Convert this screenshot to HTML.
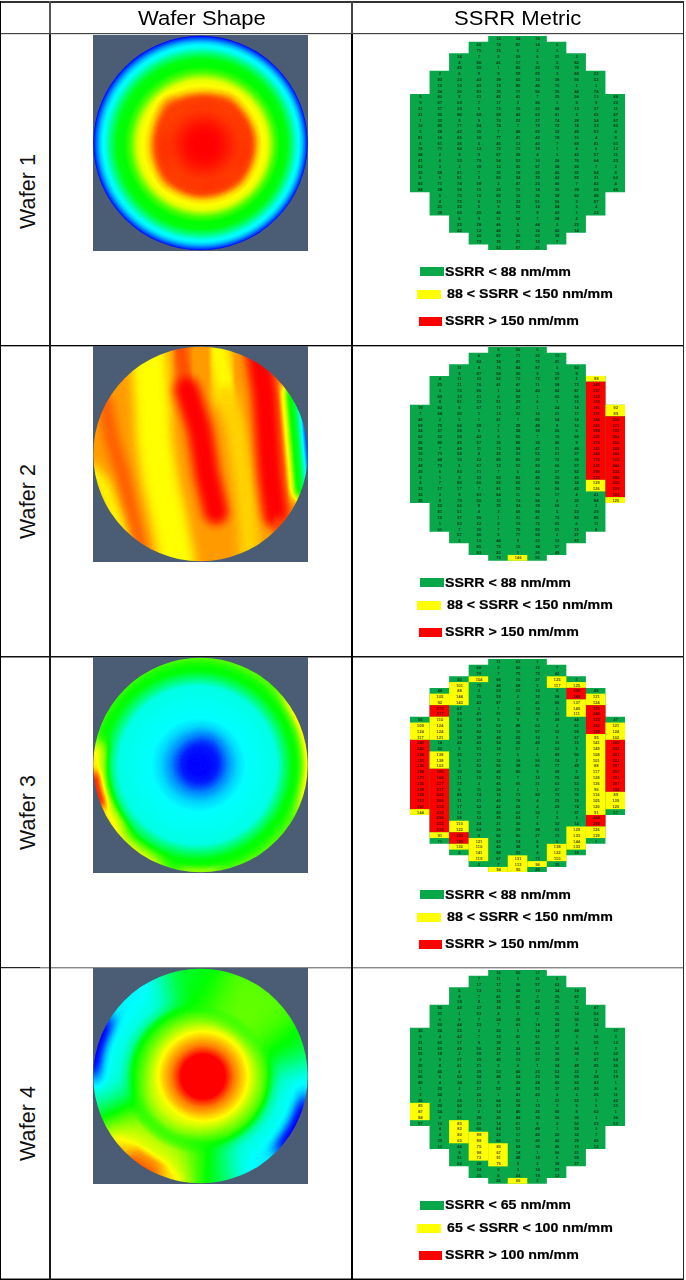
<!DOCTYPE html>
<html><head><meta charset="utf-8"><title>Wafer shape vs SSRR metric</title>
<style>
html,body{margin:0;padding:0;background:#fff;}
body{width:686px;height:1280px;position:relative;overflow:hidden;font-family:"Liberation Sans",sans-serif;}
.abs{position:absolute;display:block;}
.hl{position:absolute;height:1px;background:#1a1a1a;}
.vl{position:absolute;width:2px;background:#111;}
.hd{position:absolute;top:6.3px;font-size:20.5px;line-height:24px;color:#000;white-space:nowrap;transform:scaleX(1.075);transform-origin:0 0;}
.rl{position:absolute;font-size:21.5px;letter-spacing:0.1px;line-height:24px;color:#111;white-space:nowrap;transform:rotate(-90deg);transform-origin:0 0;}
.sw{width:23.5px;height:9px;}
.lg{font-size:12.3px;font-weight:bold;line-height:14px;color:#000;-webkit-text-stroke:0.2px #000;white-space:nowrap;transform:scaleX(1.155);transform-origin:0 0;}
</style></head><body>

<svg class="abs" style="left:93px;top:35px" width="215" height="216" viewBox="0 0 215 216">
<defs>
<clipPath id="cc1"><circle cx="107.5" cy="108" r="107.2"/></clipPath>
<filter id="wf1" filterUnits="userSpaceOnUse" x="-10" y="-10" width="235" height="236" color-interpolation-filters="sRGB"><feComponentTransfer><feFuncR type="table" tableValues="0 0 0 0 1 1"/><feFuncG type="table" tableValues="0 0 1 1 1 0"/><feFuncB type="table" tableValues="0.55 1 1 0 0 0"/></feComponentTransfer></filter>
<radialGradient id="w1g" gradientUnits="userSpaceOnUse" cx="107.55" cy="108.1" r="107" fx="113.5" fy="113"><stop offset="0.0000" stop-color="rgb(255,255,255)"/><stop offset="0.3551" stop-color="rgb(255,255,255)"/><stop offset="0.4486" stop-color="rgb(240,240,240)"/><stop offset="0.5140" stop-color="rgb(212,212,212)"/><stop offset="0.5607" stop-color="rgb(204,204,204)"/><stop offset="0.6075" stop-color="rgb(199,199,199)"/><stop offset="0.6729" stop-color="rgb(168,168,168)"/><stop offset="0.7290" stop-color="rgb(153,153,153)"/><stop offset="0.7944" stop-color="rgb(150,150,150)"/><stop offset="0.8505" stop-color="rgb(128,128,128)"/><stop offset="0.8925" stop-color="rgb(107,107,107)"/><stop offset="0.9252" stop-color="rgb(99,99,99)"/><stop offset="0.9486" stop-color="rgb(89,89,89)"/><stop offset="0.9720" stop-color="rgb(74,74,74)"/><stop offset="0.9907" stop-color="rgb(61,61,61)"/><stop offset="1.0000" stop-color="rgb(51,51,51)"/></radialGradient><filter id="w1b" x="-100%" y="-100%" width="300%" height="300%" color-interpolation-filters="sRGB"><feGaussianBlur stdDeviation="6"/></filter><filter id="w1c" x="-100%" y="-100%" width="300%" height="300%" color-interpolation-filters="sRGB"><feGaussianBlur stdDeviation="10"/></filter>
</defs>
<rect width="215" height="216" fill="#4a5d74"/>
<g clip-path="url(#cc1)"><g filter="url(#wf1)">
<rect x="-20" y="-20" width="255" height="256" fill="black"/>
<rect x="-20" y="-20" width="255" height="256" fill="url(#w1g)"/><polygon points="72,65 138,63 159,103 146,147 107,157 71,146 66,87" fill="rgb(242,242,242)" filter="url(#w1b)"/><circle cx="111" cy="110" r="28" fill="rgb(255,255,255)" filter="url(#w1c)"/>
</g></g>
</svg>
<svg class="abs" style="left:93px;top:346px" width="215" height="216" viewBox="0 0 215 216">
<defs>
<clipPath id="cc2"><circle cx="107.5" cy="108" r="107.2"/></clipPath>
<filter id="wf2" filterUnits="userSpaceOnUse" x="-10" y="-10" width="235" height="236" color-interpolation-filters="sRGB"><feGaussianBlur stdDeviation="1.5"/><feComponentTransfer><feFuncR type="table" tableValues="0 0 0 0 1 1"/><feFuncG type="table" tableValues="0 0 1 1 1 0"/><feFuncB type="table" tableValues="0.55 1 1 0 0 0"/></feComponentTransfer></filter>
<filter id="w2b" x="-100%" y="-100%" width="300%" height="300%" color-interpolation-filters="sRGB"><feGaussianBlur stdDeviation="5"/></filter><filter id="w2s" x="-100%" y="-100%" width="300%" height="300%" color-interpolation-filters="sRGB"><feGaussianBlur stdDeviation="5.5"/></filter><linearGradient id="og1" gradientUnits="userSpaceOnUse" x1="189.5" y1="0" x2="216" y2="0" gradientTransform="rotate(-5 107.5 108)"><stop offset="0.0000" stop-color="rgb(255,255,255)" stop-opacity="0"/><stop offset="0.0943" stop-color="rgb(217,217,217)" stop-opacity="1"/><stop offset="0.1509" stop-color="rgb(204,204,204)" stop-opacity="1"/><stop offset="0.2642" stop-color="rgb(201,201,201)" stop-opacity="1"/><stop offset="0.3396" stop-color="rgb(168,168,168)" stop-opacity="1"/><stop offset="0.4340" stop-color="rgb(153,153,153)" stop-opacity="1"/><stop offset="0.6226" stop-color="rgb(143,143,143)" stop-opacity="1"/><stop offset="0.7358" stop-color="rgb(115,115,115)" stop-opacity="1"/><stop offset="0.8113" stop-color="rgb(99,99,99)" stop-opacity="1"/><stop offset="0.9057" stop-color="rgb(71,71,71)" stop-opacity="1"/><stop offset="1.0000" stop-color="rgb(51,51,51)" stop-opacity="1"/></linearGradient><filter id="ofb1" filterUnits="userSpaceOnUse" x="-60" y="-60" width="335" height="336"><feGaussianBlur stdDeviation="5"/></filter><mask id="om1" maskUnits="userSpaceOnUse" x="-30" y="-30" width="275" height="276"><rect x="179" y="40" width="58" height="112" fill="white" filter="url(#ofb1)"/></mask>
</defs>
<rect width="215" height="216" fill="#4a5d74"/>
<g clip-path="url(#cc2)"><g filter="url(#wf2)">
<rect x="-20" y="-20" width="255" height="256" fill="black"/>
<rect x="-20" y="-20" width="255" height="256" fill="rgb(224,224,224)"/><path d="M11.0,54.0 L19.0,94.0 L30.0,129.0 L39.0,169.0 L47.0,204.0" fill="none" stroke="rgb(237,237,237)" stroke-width="14" stroke-linecap="round" stroke-linejoin="round" filter="url(#w2b)"/><path d="M-3.0,124.0 L10.0,139.0 L21.0,169.0 L31.0,199.0" fill="none" stroke="rgb(204,204,204)" stroke-width="14" stroke-linecap="round" stroke-linejoin="round" filter="url(#w2b)"/><path d="M55.0,-1.0 L59.0,54.0 L61.0,94.0 L67.0,134.0 L75.0,169.0 L84.0,214.0" fill="none" stroke="rgb(204,204,204)" stroke-width="36" stroke-linecap="round" stroke-linejoin="round" filter="url(#w2b)"/><path d="M87.0,-1.0 L93.0,39.0" fill="none" stroke="rgb(240,240,240)" stroke-width="16" stroke-linecap="round" stroke-linejoin="round" filter="url(#w2b)"/><path d="M94.0,44.0 L107.0,84.0 L114.0,129.0 L123.0,166.0" fill="none" stroke="rgb(255,255,255)" stroke-width="25" stroke-linecap="round" stroke-linejoin="round" filter="url(#w2b)"/><path d="M125.0,-1.0 L133.0,49.0" fill="none" stroke="rgb(204,204,204)" stroke-width="22" stroke-linecap="round" stroke-linejoin="round" filter="url(#w2b)"/><path d="M133.0,49.0 L143.0,84.0 L150.0,129.0 L155.0,174.0 L157.0,214.0" fill="none" stroke="rgb(212,212,212)" stroke-width="20" stroke-linecap="round" stroke-linejoin="round" filter="url(#w2b)"/><path d="M165.0,4.0 L172.0,49.0 L175.0,94.0 L178.0,134.0 L183.0,169.0" fill="none" stroke="rgb(255,255,255)" stroke-width="26" stroke-linecap="round" stroke-linejoin="round" filter="url(#w2b)"/><path d="M186.0,179.0 L192.0,199.0" fill="none" stroke="rgb(240,240,240)" stroke-width="16" stroke-linecap="round" stroke-linejoin="round" filter="url(#w2b)"/><rect x="-20" y="-20" width="255" height="256" fill="url(#og1)" mask="url(#om1)"/>
</g></g>
</svg>
<svg class="abs" style="left:93px;top:657px" width="215" height="216" viewBox="0 0 215 216">
<defs>
<clipPath id="cc3"><circle cx="107.5" cy="108" r="107.2"/></clipPath>
<filter id="wf3" filterUnits="userSpaceOnUse" x="-10" y="-10" width="235" height="236" color-interpolation-filters="sRGB"><feComponentTransfer><feFuncR type="table" tableValues="0 0 0 0 1 1"/><feFuncG type="table" tableValues="0 0 1 1 1 0"/><feFuncB type="table" tableValues="0.55 1 1 0 0 0"/></feComponentTransfer></filter>
<radialGradient id="w3g" gradientUnits="userSpaceOnUse" cx="104" cy="108.5" r="107" fx="107" fy="107.5"><stop offset="0.0000" stop-color="rgb(48,48,48)"/><stop offset="0.0935" stop-color="rgb(51,51,51)"/><stop offset="0.1682" stop-color="rgb(57,57,57)"/><stop offset="0.2617" stop-color="rgb(79,79,79)"/><stop offset="0.3551" stop-color="rgb(94,94,94)"/><stop offset="0.4393" stop-color="rgb(102,102,102)"/><stop offset="0.7383" stop-color="rgb(107,107,107)"/><stop offset="0.8037" stop-color="rgb(128,128,128)"/><stop offset="0.8785" stop-color="rgb(150,150,150)"/><stop offset="0.9533" stop-color="rgb(158,158,158)"/><stop offset="1.0000" stop-color="rgb(168,168,168)"/></radialGradient><filter id="w3e" x="-100%" y="-100%" width="300%" height="300%" color-interpolation-filters="sRGB"><feGaussianBlur stdDeviation="8"/></filter><radialGradient id="og2" gradientUnits="userSpaceOnUse" cx="107.55" cy="108.10" r="112.0"><stop offset="0.8393" stop-color="rgb(153,153,153)" stop-opacity="0"/><stop offset="0.9018" stop-color="rgb(173,173,173)" stop-opacity="1"/><stop offset="0.9464" stop-color="rgb(204,204,204)" stop-opacity="1"/><stop offset="1.0000" stop-color="rgb(209,209,209)" stop-opacity="1"/></radialGradient><filter id="ofb2" filterUnits="userSpaceOnUse" x="-60" y="-60" width="335" height="336"><feGaussianBlur stdDeviation="10"/></filter><mask id="om2" maskUnits="userSpaceOnUse" x="-30" y="-30" width="275" height="276"><path d="M107.6,108.1 L210.0,28.1 L215.0,34.9 L219.6,42.1 L223.6,49.6 L227.2,57.3 L230.3,65.2 L232.8,73.4 L234.8,81.6 L236.3,90.0 L237.2,98.5 L237.5,107.0 L237.3,115.5 L236.6,123.9 L235.3,132.3 L233.4,140.6 L231.0,148.8 L228.1,156.8 Z" fill="white" filter="url(#ofb2)"/></mask><radialGradient id="og3" gradientUnits="userSpaceOnUse" cx="107.55" cy="108.10" r="112.0"><stop offset="0.8214" stop-color="rgb(153,153,153)" stop-opacity="0"/><stop offset="0.8929" stop-color="rgb(173,173,173)" stop-opacity="1"/><stop offset="0.9464" stop-color="rgb(194,194,194)" stop-opacity="1"/><stop offset="1.0000" stop-color="rgb(199,199,199)" stop-opacity="1"/></radialGradient><filter id="ofb3" filterUnits="userSpaceOnUse" x="-60" y="-60" width="335" height="336"><feGaussianBlur stdDeviation="8"/></filter><mask id="om3" maskUnits="userSpaceOnUse" x="-30" y="-30" width="275" height="276"><path d="M107.6,108.1 L58.9,228.6 L54.4,226.7 L50.1,224.7 L45.8,222.5 L41.6,220.1 L37.5,217.6 L33.5,214.9 L29.5,212.1 L25.7,209.1 L22.0,206.0 L18.5,202.8 L15.0,199.4 L11.7,195.9 L8.5,192.3 L5.5,188.6 L2.5,184.7 L-0.2,180.8 Z" fill="white" filter="url(#ofb3)"/></mask><radialGradient id="og4" gradientUnits="userSpaceOnUse" cx="107.55" cy="108.10" r="112.0"><stop offset="0.7857" stop-color="rgb(153,153,153)" stop-opacity="0"/><stop offset="0.8661" stop-color="rgb(184,184,184)" stop-opacity="1"/><stop offset="0.9196" stop-color="rgb(204,204,204)" stop-opacity="1"/><stop offset="1.0000" stop-color="rgb(212,212,212)" stop-opacity="1"/></radialGradient><filter id="ofb4" filterUnits="userSpaceOnUse" x="-60" y="-60" width="335" height="336"><feGaussianBlur stdDeviation="7"/></filter><mask id="om4" maskUnits="userSpaceOnUse" x="-30" y="-30" width="275" height="276"><path d="M107.6,108.1 L8.0,191.7 L3.4,185.9 L-0.9,179.9 L-4.7,173.6 L-8.3,167.1 L-11.4,160.5 L-14.2,153.6 L-16.6,146.7 L-18.6,139.5 L-20.2,132.3 L-21.3,125.1 L-22.1,117.7 L-22.4,110.4 L-22.3,103.0 L-21.9,95.6 L-20.9,88.3 L-19.6,81.1 Z" fill="white" filter="url(#ofb4)"/></mask><radialGradient id="og5" gradientUnits="userSpaceOnUse" cx="107.55" cy="108.10" r="112.0"><stop offset="0.8571" stop-color="rgb(199,199,199)" stop-opacity="0"/><stop offset="0.9018" stop-color="rgb(219,219,219)" stop-opacity="1"/><stop offset="0.9286" stop-color="rgb(242,242,242)" stop-opacity="1"/><stop offset="1.0000" stop-color="rgb(255,255,255)" stop-opacity="1"/></radialGradient><filter id="ofb5" filterUnits="userSpaceOnUse" x="-60" y="-60" width="335" height="336"><feGaussianBlur stdDeviation="4"/></filter><mask id="om5" maskUnits="userSpaceOnUse" x="-30" y="-30" width="275" height="276"><path d="M107.6,108.1 L-12.1,158.9 L-13.1,156.4 L-14.1,153.9 L-15.0,151.4 L-15.9,148.8 L-16.7,146.2 L-17.5,143.7 L-18.2,141.1 L-18.9,138.4 L-19.5,135.8 L-20.0,133.2 L-20.5,130.5 L-20.9,127.9 L-21.3,125.2 L-21.6,122.5 L-21.9,119.9 L-22.1,117.2 Z" fill="white" filter="url(#ofb5)"/></mask><radialGradient id="og6" gradientUnits="userSpaceOnUse" cx="107.55" cy="108.10" r="112.0"><stop offset="0.8750" stop-color="rgb(158,158,158)" stop-opacity="0"/><stop offset="0.9286" stop-color="rgb(178,178,178)" stop-opacity="1"/><stop offset="1.0000" stop-color="rgb(189,189,189)" stop-opacity="1"/></radialGradient><filter id="ofb6" filterUnits="userSpaceOnUse" x="-60" y="-60" width="335" height="336"><feGaussianBlur stdDeviation="6"/></filter><mask id="om6" maskUnits="userSpaceOnUse" x="-30" y="-30" width="275" height="276"><path d="M107.6,108.1 L130.1,236.1 L127.3,236.6 L124.5,237.0 L121.7,237.3 L118.9,237.6 L116.1,237.8 L113.2,238.0 L110.4,238.1 L107.6,238.1 L104.7,238.1 L101.9,238.0 L99.0,237.8 L96.2,237.6 L93.4,237.3 L90.6,237.0 L87.8,236.6 L85.0,236.1 Z" fill="white" filter="url(#ofb6)"/></mask>
</defs>
<rect width="215" height="216" fill="#4a5d74"/>
<g clip-path="url(#cc3)"><g filter="url(#wf3)">
<rect x="-20" y="-20" width="255" height="256" fill="black"/>
<rect x="-20" y="-20" width="255" height="256" fill="url(#w3g)"/><ellipse cx="110.0" cy="101.0" rx="12" ry="21" fill="rgb(54,54,54)" fill-opacity="0.8" transform="rotate(15 110.0 101.0)" filter="url(#w3e)"/><rect x="-20" y="-20" width="255" height="256" fill="url(#og2)" mask="url(#om2)"/><rect x="-20" y="-20" width="255" height="256" fill="url(#og3)" mask="url(#om3)"/><rect x="-20" y="-20" width="255" height="256" fill="url(#og4)" mask="url(#om4)"/><rect x="-20" y="-20" width="255" height="256" fill="url(#og5)" mask="url(#om5)"/><rect x="-20" y="-20" width="255" height="256" fill="url(#og6)" mask="url(#om6)"/>
</g></g>
</svg>
<svg class="abs" style="left:93px;top:968px" width="215" height="216" viewBox="0 0 215 216">
<defs>
<clipPath id="cc4"><circle cx="107.5" cy="108" r="107.2"/></clipPath>
<filter id="wf4" filterUnits="userSpaceOnUse" x="-10" y="-10" width="235" height="236" color-interpolation-filters="sRGB"><feComponentTransfer><feFuncR type="table" tableValues="0 0 0 0 1 1"/><feFuncG type="table" tableValues="0 0 1 1 1 0"/><feFuncB type="table" tableValues="0.55 1 1 0 0 0"/></feComponentTransfer></filter>
<radialGradient id="w4g" gradientUnits="userSpaceOnUse" cx="110" cy="108.5" r="108" ><stop offset="0.0000" stop-color="rgb(255,255,255)"/><stop offset="0.2037" stop-color="rgb(255,255,255)"/><stop offset="0.2870" stop-color="rgb(230,230,230)"/><stop offset="0.4167" stop-color="rgb(204,204,204)"/><stop offset="0.5278" stop-color="rgb(178,178,178)"/><stop offset="0.6204" stop-color="rgb(158,158,158)"/><stop offset="0.7870" stop-color="rgb(153,153,153)"/><stop offset="1.0000" stop-color="rgb(148,148,148)"/></radialGradient><radialGradient id="og7" gradientUnits="userSpaceOnUse" cx="107.55" cy="108.10" r="112.0"><stop offset="0.3393" stop-color="rgb(204,204,204)" stop-opacity="0"/><stop offset="0.4464" stop-color="rgb(199,199,199)" stop-opacity="0.7"/><stop offset="0.5714" stop-color="rgb(178,178,178)" stop-opacity="0.6"/><stop offset="0.7143" stop-color="rgb(153,153,153)" stop-opacity="0"/></radialGradient><filter id="ofb7" filterUnits="userSpaceOnUse" x="-60" y="-60" width="335" height="336"><feGaussianBlur stdDeviation="14"/></filter><mask id="om7" maskUnits="userSpaceOnUse" x="-30" y="-30" width="275" height="276"><path d="M107.6,108.1 L85.0,236.1 L76.0,234.2 L67.1,231.6 L58.5,228.5 L50.1,224.7 L41.9,220.3 L34.2,215.4 L26.7,209.9 L19.7,203.9 L13.2,197.5 L7.1,190.6 L1.5,183.2 L-3.6,175.5 L-8.1,167.5 L-12.0,159.2 L-15.3,150.6 L-18.0,141.7 Z" fill="white" filter="url(#ofb7)"/></mask><radialGradient id="og8" gradientUnits="userSpaceOnUse" cx="107.55" cy="108.10" r="112.0"><stop offset="0.5714" stop-color="rgb(153,153,153)" stop-opacity="0"/><stop offset="0.6607" stop-color="rgb(122,122,122)" stop-opacity="1"/><stop offset="0.7321" stop-color="rgb(107,107,107)" stop-opacity="1"/><stop offset="1.0000" stop-color="rgb(97,97,97)" stop-opacity="1"/></radialGradient><filter id="ofb8" filterUnits="userSpaceOnUse" x="-60" y="-60" width="335" height="336"><feGaussianBlur stdDeviation="14"/></filter><mask id="om8" maskUnits="userSpaceOnUse" x="-30" y="-30" width="275" height="276"><path d="M107.6,108.1 L-18.0,141.7 L-20.6,130.0 L-22.1,118.0 L-22.4,106.0 L-21.7,93.9 L-19.8,82.0 L-16.9,70.4 L-12.8,59.0 L-7.8,48.1 L-1.7,37.7 L5.3,27.8 L13.2,18.7 L21.8,10.4 L31.3,2.8 L41.3,-3.8 L52.0,-9.4 L63.1,-14.1 Z" fill="white" filter="url(#ofb8)"/></mask><radialGradient id="og9" gradientUnits="userSpaceOnUse" cx="107.55" cy="108.10" r="112.0"><stop offset="0.8036" stop-color="rgb(102,102,102)" stop-opacity="0"/><stop offset="0.8750" stop-color="rgb(84,84,84)" stop-opacity="1"/><stop offset="0.9196" stop-color="rgb(59,59,59)" stop-opacity="1"/><stop offset="1.0000" stop-color="rgb(38,38,38)" stop-opacity="1"/></radialGradient><filter id="ofb9" filterUnits="userSpaceOnUse" x="-60" y="-60" width="335" height="336"><feGaussianBlur stdDeviation="8"/></filter><mask id="om9" maskUnits="userSpaceOnUse" x="-30" y="-30" width="275" height="276"><path d="M107.6,108.1 L-22.4,108.1 L-22.4,103.6 L-22.1,99.0 L-21.7,94.5 L-21.2,90.0 L-20.5,85.5 L-19.6,81.1 L-18.6,76.7 L-17.4,72.3 L-16.1,67.9 L-14.6,63.6 L-13.0,59.4 L-11.2,55.2 L-9.3,51.1 L-7.2,47.1 L-5.0,43.1 L-2.7,39.2 Z" fill="white" filter="url(#ofb9)"/></mask><radialGradient id="og10" gradientUnits="userSpaceOnUse" cx="107.55" cy="108.10" r="112.0"><stop offset="0.5714" stop-color="rgb(153,153,153)" stop-opacity="0"/><stop offset="0.6607" stop-color="rgb(122,122,122)" stop-opacity="1"/><stop offset="0.7321" stop-color="rgb(107,107,107)" stop-opacity="1"/><stop offset="1.0000" stop-color="rgb(97,97,97)" stop-opacity="1"/></radialGradient><filter id="ofb10" filterUnits="userSpaceOnUse" x="-60" y="-60" width="335" height="336"><feGaussianBlur stdDeviation="14"/></filter><mask id="om10" maskUnits="userSpaceOnUse" x="-30" y="-30" width="275" height="276"><path d="M107.6,108.1 L236.3,90.0 L237.4,101.6 L237.4,113.2 L236.5,124.8 L234.5,136.2 L231.4,147.5 L227.4,158.4 L222.5,168.9 L216.6,178.9 L209.8,188.4 L202.2,197.2 L193.9,205.3 L184.9,212.6 L175.2,219.1 L165.0,224.7 L154.4,229.4 L143.4,233.1 Z" fill="white" filter="url(#ofb10)"/></mask><radialGradient id="og11" gradientUnits="userSpaceOnUse" cx="107.55" cy="108.10" r="112.0"><stop offset="0.8036" stop-color="rgb(102,102,102)" stop-opacity="0"/><stop offset="0.8750" stop-color="rgb(84,84,84)" stop-opacity="1"/><stop offset="0.9196" stop-color="rgb(59,59,59)" stop-opacity="1"/><stop offset="1.0000" stop-color="rgb(38,38,38)" stop-opacity="1"/></radialGradient><filter id="ofb11" filterUnits="userSpaceOnUse" x="-60" y="-60" width="335" height="336"><feGaussianBlur stdDeviation="8"/></filter><mask id="om11" maskUnits="userSpaceOnUse" x="-30" y="-30" width="275" height="276"><path d="M107.6,108.1 L234.7,135.1 L233.7,139.5 L232.5,143.9 L231.2,148.3 L229.7,152.6 L228.1,156.8 L226.3,161.0 L224.4,165.1 L222.3,169.1 L220.1,173.1 L217.8,177.0 L215.3,180.8 L212.7,184.5 L210.0,188.1 L207.1,191.7 L204.2,195.1 L201.1,198.4 Z" fill="white" filter="url(#ofb11)"/></mask><radialGradient id="og12" gradientUnits="userSpaceOnUse" cx="107.55" cy="108.10" r="112.0"><stop offset="0.4464" stop-color="rgb(158,158,158)" stop-opacity="0"/><stop offset="0.6250" stop-color="rgb(173,173,173)" stop-opacity="1"/><stop offset="1.0000" stop-color="rgb(171,171,171)" stop-opacity="1"/></radialGradient><filter id="ofb12" filterUnits="userSpaceOnUse" x="-60" y="-60" width="335" height="336"><feGaussianBlur stdDeviation="14"/></filter><mask id="om12" maskUnits="userSpaceOnUse" x="-30" y="-30" width="275" height="276"><path d="M107.6,108.1 L134.6,-19.1 L141.2,-17.5 L147.7,-15.5 L154.1,-13.3 L160.4,-10.7 L166.6,-7.7 L172.6,-4.5 L178.4,-0.9 L184.0,2.9 L189.4,7.1 L194.5,11.5 L199.5,16.2 L204.2,21.1 L208.6,26.3 L212.7,31.7 L216.6,37.3 L220.1,43.1 Z" fill="white" filter="url(#ofb12)"/></mask><radialGradient id="og13" gradientUnits="userSpaceOnUse" cx="107.55" cy="108.10" r="112.0"><stop offset="0.5357" stop-color="rgb(153,153,153)" stop-opacity="0"/><stop offset="0.6964" stop-color="rgb(189,189,189)" stop-opacity="1"/><stop offset="0.8482" stop-color="rgb(204,204,204)" stop-opacity="1"/><stop offset="0.9107" stop-color="rgb(214,214,214)" stop-opacity="1"/><stop offset="1.0000" stop-color="rgb(224,224,224)" stop-opacity="1"/></radialGradient><filter id="ofb13" filterUnits="userSpaceOnUse" x="-60" y="-60" width="335" height="336"><feGaussianBlur stdDeviation="14"/></filter><mask id="om13" maskUnits="userSpaceOnUse" x="-30" y="-30" width="275" height="276"><path d="M107.6,108.1 L94.0,237.4 L86.4,236.4 L78.9,234.9 L71.4,233.0 L64.2,230.6 L57.0,227.9 L50.1,224.7 L43.3,221.1 L36.7,217.1 L30.5,212.8 L24.4,208.0 L18.7,203.0 L13.3,197.6 L8.1,191.9 L3.4,185.9 L-1.0,179.6 L-5.0,173.1 Z" fill="white" filter="url(#ofb13)"/></mask><radialGradient id="og14" gradientUnits="userSpaceOnUse" cx="107.55" cy="108.10" r="112.0"><stop offset="0.7857" stop-color="rgb(204,204,204)" stop-opacity="0"/><stop offset="0.8661" stop-color="rgb(224,224,224)" stop-opacity="1"/><stop offset="1.0000" stop-color="rgb(242,242,242)" stop-opacity="1"/></radialGradient><filter id="ofb14" filterUnits="userSpaceOnUse" x="-60" y="-60" width="335" height="336"><feGaussianBlur stdDeviation="6"/></filter><mask id="om14" maskUnits="userSpaceOnUse" x="-30" y="-30" width="275" height="276"><path d="M107.6,108.1 L56.8,227.8 L54.3,226.7 L51.8,225.6 L49.4,224.4 L47.0,223.1 L44.6,221.9 L42.3,220.5 L40.0,219.2 L37.7,217.7 L35.4,216.3 L33.2,214.8 L31.0,213.2 L28.9,211.6 L26.7,209.9 L24.6,208.2 L22.6,206.5 L20.6,204.7 Z" fill="white" filter="url(#ofb14)"/></mask>
</defs>
<rect width="215" height="216" fill="#4a5d74"/>
<g clip-path="url(#cc4)"><g filter="url(#wf4)">
<rect x="-20" y="-20" width="255" height="256" fill="black"/>
<rect x="-20" y="-20" width="255" height="256" fill="url(#w4g)"/><rect x="-20" y="-20" width="255" height="256" fill="url(#og7)" mask="url(#om7)"/><rect x="-20" y="-20" width="255" height="256" fill="url(#og8)" mask="url(#om8)"/><rect x="-20" y="-20" width="255" height="256" fill="url(#og9)" mask="url(#om9)"/><rect x="-20" y="-20" width="255" height="256" fill="url(#og10)" mask="url(#om10)"/><rect x="-20" y="-20" width="255" height="256" fill="url(#og11)" mask="url(#om11)"/><rect x="-20" y="-20" width="255" height="256" fill="url(#og12)" mask="url(#om12)"/><rect x="-20" y="-20" width="255" height="256" fill="url(#og13)" mask="url(#om13)"/><rect x="-20" y="-20" width="255" height="256" fill="url(#og14)" mask="url(#om14)"/>
</g></g>
</svg>
<svg class="abs" style="left:410px;top:35.5px" width="215" height="214.23" viewBox="0 0 215 214.23">
<polygon fill="#08a84a" points="0.00,57.90 19.55,57.90 19.55,34.74 39.09,34.74 39.09,17.37 58.64,17.37 58.64,5.79 78.18,5.79 78.18,0.00 97.73,0.00 97.73,0.00 117.27,0.00 117.27,0.00 136.82,0.00 136.82,5.79 156.36,5.79 156.36,17.37 175.91,17.37 175.91,34.74 195.45,34.74 195.45,57.90 215.00,57.90 215.00,156.33 195.45,156.33 195.45,179.49 175.91,179.49 175.91,196.86 156.36,196.86 156.36,208.44 136.82,208.44 136.82,214.23 117.27,214.23 117.27,214.23 97.73,214.23 97.73,214.23 78.18,214.23 78.18,208.44 58.64,208.44 58.64,196.86 39.09,196.86 39.09,179.49 19.55,179.49 19.55,156.33 0.00,156.33"/>
<g font-family="Liberation Sans" font-size="4.2" font-weight="bold" text-anchor="middle" fill="#000" fill-opacity="0.72">
<text x="10.3" y="62.4">6</text>
<text x="10.3" y="68.2">9</text>
<text x="10.3" y="74.0">21</text>
<text x="10.3" y="79.8">21</text>
<text x="10.3" y="85.6">1</text>
<text x="10.3" y="91.4">16</text>
<text x="10.3" y="97.2">5</text>
<text x="10.3" y="102.9">81</text>
<text x="10.3" y="108.7">6</text>
<text x="10.3" y="114.5">78</text>
<text x="10.3" y="120.3">68</text>
<text x="10.3" y="126.1">41</text>
<text x="10.3" y="131.9">53</text>
<text x="10.3" y="137.7">25</text>
<text x="10.3" y="143.5">6</text>
<text x="10.3" y="149.3">83</text>
<text x="10.3" y="155.1">84</text>
<text x="29.8" y="39.3">2</text>
<text x="29.8" y="45.0">83</text>
<text x="29.8" y="50.8">12</text>
<text x="29.8" y="56.6">24</text>
<text x="29.8" y="62.4">60</text>
<text x="29.8" y="68.2">67</text>
<text x="29.8" y="74.0">27</text>
<text x="29.8" y="79.8">55</text>
<text x="29.8" y="85.6">32</text>
<text x="29.8" y="91.4">85</text>
<text x="29.8" y="97.2">28</text>
<text x="29.8" y="102.9">16</text>
<text x="29.8" y="108.7">61</text>
<text x="29.8" y="114.5">71</text>
<text x="29.8" y="120.3">2</text>
<text x="29.8" y="126.1">6</text>
<text x="29.8" y="131.9">3</text>
<text x="29.8" y="137.7">58</text>
<text x="29.8" y="143.5">6</text>
<text x="29.8" y="149.3">71</text>
<text x="29.8" y="155.1">28</text>
<text x="29.8" y="160.8">5</text>
<text x="29.8" y="166.6">4</text>
<text x="29.8" y="172.4">21</text>
<text x="29.8" y="178.2">38</text>
<text x="49.4" y="21.9">34</text>
<text x="49.4" y="27.7">4</text>
<text x="49.4" y="33.5">45</text>
<text x="49.4" y="39.3">6</text>
<text x="49.4" y="45.0">23</text>
<text x="49.4" y="50.8">10</text>
<text x="49.4" y="56.6">20</text>
<text x="49.4" y="62.4">8</text>
<text x="49.4" y="68.2">69</text>
<text x="49.4" y="74.0">29</text>
<text x="49.4" y="79.8">86</text>
<text x="49.4" y="85.6">9</text>
<text x="49.4" y="91.4">77</text>
<text x="49.4" y="97.2">42</text>
<text x="49.4" y="102.9">85</text>
<text x="49.4" y="108.7">26</text>
<text x="49.4" y="114.5">84</text>
<text x="49.4" y="120.3">9</text>
<text x="49.4" y="126.1">33</text>
<text x="49.4" y="131.9">3</text>
<text x="49.4" y="137.7">81</text>
<text x="49.4" y="143.5">81</text>
<text x="49.4" y="149.3">74</text>
<text x="49.4" y="155.1">18</text>
<text x="49.4" y="160.8">75</text>
<text x="49.4" y="166.6">75</text>
<text x="49.4" y="172.4">35</text>
<text x="49.4" y="178.2">60</text>
<text x="49.4" y="184.0">6</text>
<text x="49.4" y="189.8">25</text>
<text x="49.4" y="195.6">42</text>
<text x="68.9" y="10.3">60</text>
<text x="68.9" y="16.1">75</text>
<text x="68.9" y="21.9">7</text>
<text x="68.9" y="27.7">80</text>
<text x="68.9" y="33.5">59</text>
<text x="68.9" y="39.3">9</text>
<text x="68.9" y="45.0">43</text>
<text x="68.9" y="50.8">43</text>
<text x="68.9" y="56.6">83</text>
<text x="68.9" y="62.4">21</text>
<text x="68.9" y="68.2">7</text>
<text x="68.9" y="74.0">5</text>
<text x="68.9" y="79.8">68</text>
<text x="68.9" y="85.6">9</text>
<text x="68.9" y="91.4">24</text>
<text x="68.9" y="97.2">35</text>
<text x="68.9" y="102.9">36</text>
<text x="68.9" y="108.7">5</text>
<text x="68.9" y="114.5">12</text>
<text x="68.9" y="120.3">9</text>
<text x="68.9" y="126.1">79</text>
<text x="68.9" y="131.9">39</text>
<text x="68.9" y="137.7">7</text>
<text x="68.9" y="143.5">2</text>
<text x="68.9" y="149.3">58</text>
<text x="68.9" y="155.1">15</text>
<text x="68.9" y="160.8">10</text>
<text x="68.9" y="166.6">6</text>
<text x="68.9" y="172.4">5</text>
<text x="68.9" y="178.2">20</text>
<text x="68.9" y="184.0">9</text>
<text x="68.9" y="189.8">28</text>
<text x="68.9" y="195.6">12</text>
<text x="68.9" y="201.4">20</text>
<text x="68.9" y="207.2">73</text>
<text x="88.5" y="4.5">15</text>
<text x="88.5" y="10.3">74</text>
<text x="88.5" y="16.1">15</text>
<text x="88.5" y="21.9">2</text>
<text x="88.5" y="27.7">41</text>
<text x="88.5" y="33.5">1</text>
<text x="88.5" y="39.3">9</text>
<text x="88.5" y="45.0">39</text>
<text x="88.5" y="50.8">19</text>
<text x="88.5" y="56.6">35</text>
<text x="88.5" y="62.4">42</text>
<text x="88.5" y="68.2">17</text>
<text x="88.5" y="74.0">72</text>
<text x="88.5" y="79.8">69</text>
<text x="88.5" y="85.6">70</text>
<text x="88.5" y="91.4">74</text>
<text x="88.5" y="97.2">7</text>
<text x="88.5" y="102.9">77</text>
<text x="88.5" y="108.7">45</text>
<text x="88.5" y="114.5">72</text>
<text x="88.5" y="120.3">67</text>
<text x="88.5" y="126.1">54</text>
<text x="88.5" y="131.9">10</text>
<text x="88.5" y="137.7">35</text>
<text x="88.5" y="143.5">60</text>
<text x="88.5" y="149.3">2</text>
<text x="88.5" y="155.1">23</text>
<text x="88.5" y="160.8">65</text>
<text x="88.5" y="166.6">13</text>
<text x="88.5" y="172.4">9</text>
<text x="88.5" y="178.2">46</text>
<text x="88.5" y="184.0">31</text>
<text x="88.5" y="189.8">46</text>
<text x="88.5" y="195.6">48</text>
<text x="88.5" y="201.4">60</text>
<text x="88.5" y="207.2">36</text>
<text x="88.5" y="213.0">52</text>
<text x="108.0" y="4.5">34</text>
<text x="108.0" y="10.3">81</text>
<text x="108.0" y="16.1">6</text>
<text x="108.0" y="21.9">59</text>
<text x="108.0" y="27.7">17</text>
<text x="108.0" y="33.5">83</text>
<text x="108.0" y="39.3">59</text>
<text x="108.0" y="45.0">65</text>
<text x="108.0" y="50.8">85</text>
<text x="108.0" y="56.6">77</text>
<text x="108.0" y="62.4">41</text>
<text x="108.0" y="68.2">3</text>
<text x="108.0" y="74.0">15</text>
<text x="108.0" y="79.8">42</text>
<text x="108.0" y="85.6">22</text>
<text x="108.0" y="91.4">7</text>
<text x="108.0" y="97.2">48</text>
<text x="108.0" y="102.9">41</text>
<text x="108.0" y="108.7">13</text>
<text x="108.0" y="114.5">73</text>
<text x="108.0" y="120.3">39</text>
<text x="108.0" y="126.1">53</text>
<text x="108.0" y="131.9">35</text>
<text x="108.0" y="137.7">18</text>
<text x="108.0" y="143.5">34</text>
<text x="108.0" y="149.3">47</text>
<text x="108.0" y="155.1">72</text>
<text x="108.0" y="160.8">16</text>
<text x="108.0" y="166.6">33</text>
<text x="108.0" y="172.4">50</text>
<text x="108.0" y="178.2">77</text>
<text x="108.0" y="184.0">58</text>
<text x="108.0" y="189.8">8</text>
<text x="108.0" y="195.6">5</text>
<text x="108.0" y="201.4">58</text>
<text x="108.0" y="207.2">21</text>
<text x="108.0" y="213.0">67</text>
<text x="127.5" y="4.5">70</text>
<text x="127.5" y="10.3">14</text>
<text x="127.5" y="16.1">2</text>
<text x="127.5" y="21.9">6</text>
<text x="127.5" y="27.7">5</text>
<text x="127.5" y="33.5">23</text>
<text x="127.5" y="39.3">65</text>
<text x="127.5" y="45.0">33</text>
<text x="127.5" y="50.8">40</text>
<text x="127.5" y="56.6">56</text>
<text x="127.5" y="62.4">7</text>
<text x="127.5" y="68.2">80</text>
<text x="127.5" y="74.0">23</text>
<text x="127.5" y="79.8">63</text>
<text x="127.5" y="85.6">27</text>
<text x="127.5" y="91.4">78</text>
<text x="127.5" y="97.2">82</text>
<text x="127.5" y="102.9">43</text>
<text x="127.5" y="108.7">40</text>
<text x="127.5" y="114.5">18</text>
<text x="127.5" y="120.3">4</text>
<text x="127.5" y="126.1">10</text>
<text x="127.5" y="131.9">57</text>
<text x="127.5" y="137.7">25</text>
<text x="127.5" y="143.5">32</text>
<text x="127.5" y="149.3">23</text>
<text x="127.5" y="155.1">14</text>
<text x="127.5" y="160.8">36</text>
<text x="127.5" y="166.6">51</text>
<text x="127.5" y="172.4">14</text>
<text x="127.5" y="178.2">9</text>
<text x="127.5" y="184.0">7</text>
<text x="127.5" y="189.8">44</text>
<text x="127.5" y="195.6">16</text>
<text x="127.5" y="201.4">63</text>
<text x="127.5" y="207.2">10</text>
<text x="127.5" y="213.0">21</text>
<text x="147.1" y="10.3">6</text>
<text x="147.1" y="16.1">1</text>
<text x="147.1" y="21.9">31</text>
<text x="147.1" y="27.7">5</text>
<text x="147.1" y="33.5">72</text>
<text x="147.1" y="39.3">3</text>
<text x="147.1" y="45.0">38</text>
<text x="147.1" y="50.8">70</text>
<text x="147.1" y="56.6">30</text>
<text x="147.1" y="62.4">25</text>
<text x="147.1" y="68.2">1</text>
<text x="147.1" y="74.0">68</text>
<text x="147.1" y="79.8">41</text>
<text x="147.1" y="85.6">74</text>
<text x="147.1" y="91.4">72</text>
<text x="147.1" y="97.2">32</text>
<text x="147.1" y="102.9">18</text>
<text x="147.1" y="108.7">7</text>
<text x="147.1" y="114.5">1</text>
<text x="147.1" y="120.3">1</text>
<text x="147.1" y="126.1">26</text>
<text x="147.1" y="131.9">38</text>
<text x="147.1" y="137.7">45</text>
<text x="147.1" y="143.5">42</text>
<text x="147.1" y="149.3">40</text>
<text x="147.1" y="155.1">35</text>
<text x="147.1" y="160.8">58</text>
<text x="147.1" y="166.6">56</text>
<text x="147.1" y="172.4">84</text>
<text x="147.1" y="178.2">43</text>
<text x="147.1" y="184.0">28</text>
<text x="147.1" y="189.8">2</text>
<text x="147.1" y="195.6">42</text>
<text x="147.1" y="201.4">38</text>
<text x="147.1" y="207.2">7</text>
<text x="166.6" y="21.9">3</text>
<text x="166.6" y="27.7">82</text>
<text x="166.6" y="33.5">76</text>
<text x="166.6" y="39.3">84</text>
<text x="166.6" y="45.0">56</text>
<text x="166.6" y="50.8">1</text>
<text x="166.6" y="56.6">44</text>
<text x="166.6" y="62.4">54</text>
<text x="166.6" y="68.2">9</text>
<text x="166.6" y="74.0">13</text>
<text x="166.6" y="79.8">3</text>
<text x="166.6" y="85.6">28</text>
<text x="166.6" y="91.4">74</text>
<text x="166.6" y="97.2">49</text>
<text x="166.6" y="102.9">10</text>
<text x="166.6" y="108.7">69</text>
<text x="166.6" y="114.5">4</text>
<text x="166.6" y="120.3">43</text>
<text x="166.6" y="126.1">76</text>
<text x="166.6" y="131.9">20</text>
<text x="166.6" y="137.7">35</text>
<text x="166.6" y="143.5">59</text>
<text x="166.6" y="149.3">7</text>
<text x="166.6" y="155.1">39</text>
<text x="166.6" y="160.8">60</text>
<text x="166.6" y="166.6">3</text>
<text x="166.6" y="172.4">3</text>
<text x="166.6" y="178.2">1</text>
<text x="166.6" y="184.0">2</text>
<text x="166.6" y="189.8">23</text>
<text x="166.6" y="195.6">14</text>
<text x="186.2" y="39.3">22</text>
<text x="186.2" y="45.0">53</text>
<text x="186.2" y="50.8">1</text>
<text x="186.2" y="56.6">74</text>
<text x="186.2" y="62.4">13</text>
<text x="186.2" y="68.2">9</text>
<text x="186.2" y="74.0">37</text>
<text x="186.2" y="79.8">65</text>
<text x="186.2" y="85.6">54</text>
<text x="186.2" y="91.4">33</text>
<text x="186.2" y="97.2">83</text>
<text x="186.2" y="102.9">4</text>
<text x="186.2" y="108.7">81</text>
<text x="186.2" y="114.5">6</text>
<text x="186.2" y="120.3">57</text>
<text x="186.2" y="126.1">64</text>
<text x="186.2" y="131.9">7</text>
<text x="186.2" y="137.7">84</text>
<text x="186.2" y="143.5">31</text>
<text x="186.2" y="149.3">42</text>
<text x="186.2" y="155.1">69</text>
<text x="186.2" y="160.8">48</text>
<text x="186.2" y="166.6">87</text>
<text x="186.2" y="172.4">4</text>
<text x="186.2" y="178.2">23</text>
<text x="205.7" y="62.4">48</text>
<text x="205.7" y="68.2">23</text>
<text x="205.7" y="74.0">11</text>
<text x="205.7" y="79.8">47</text>
<text x="205.7" y="85.6">87</text>
<text x="205.7" y="91.4">83</text>
<text x="205.7" y="97.2">4</text>
<text x="205.7" y="102.9">8</text>
<text x="205.7" y="108.7">61</text>
<text x="205.7" y="114.5">12</text>
<text x="205.7" y="120.3">11</text>
<text x="205.7" y="126.1">23</text>
<text x="205.7" y="131.9">3</text>
<text x="205.7" y="137.7">8</text>
<text x="205.7" y="143.5">62</text>
<text x="205.7" y="149.3">4</text>
<text x="205.7" y="155.1">45</text>
</g></svg>
<svg class="abs" style="left:410px;top:347.4px" width="215" height="213.71" viewBox="0 0 215 213.71">
<polygon fill="#08a84a" points="0.00,57.76 19.55,57.76 19.55,28.88 39.09,28.88 39.09,17.33 58.64,17.33 58.64,5.78 78.18,5.78 78.18,0.00 97.73,0.00 97.73,0.00 117.27,0.00 117.27,0.00 136.82,0.00 136.82,5.78 156.36,5.78 156.36,17.33 175.91,17.33 175.91,28.88 195.45,28.88 195.45,57.76 215.00,57.76 215.00,155.95 195.45,155.95 195.45,184.83 175.91,184.83 175.91,196.38 156.36,196.38 156.36,207.94 136.82,207.94 136.82,213.71 117.27,213.71 117.27,213.71 97.73,213.71 97.73,213.71 78.18,213.71 78.18,207.94 58.64,207.94 58.64,196.38 39.09,196.38 39.09,184.83 19.55,184.83 19.55,155.95 0.00,155.95"/>
<rect x="97.73" y="207.94" width="19.55" height="5.78" fill="#ffff00"/>
<rect x="175.91" y="28.88" width="19.55" height="5.78" fill="#ffff00"/>
<rect x="175.91" y="34.66" width="19.55" height="98.19" fill="#ff0000"/>
<rect x="175.91" y="132.85" width="19.55" height="11.55" fill="#ffff00"/>
<rect x="195.45" y="57.76" width="19.55" height="11.55" fill="#ffff00"/>
<rect x="195.45" y="69.31" width="19.55" height="80.86" fill="#ff0000"/>
<rect x="195.45" y="150.18" width="19.55" height="5.78" fill="#ffff00"/>
<g font-family="Liberation Sans" font-size="4.2" font-weight="bold" text-anchor="middle" fill="#000" fill-opacity="0.72">
<text x="10.3" y="62.3">19</text>
<text x="10.3" y="68.0">7</text>
<text x="10.3" y="73.8">48</text>
<text x="10.3" y="79.6">69</text>
<text x="10.3" y="85.4">34</text>
<text x="10.3" y="91.1">62</text>
<text x="10.3" y="96.9">26</text>
<text x="10.3" y="102.7">58</text>
<text x="10.3" y="108.5">10</text>
<text x="10.3" y="114.2">72</text>
<text x="10.3" y="120.0">48</text>
<text x="10.3" y="125.8">20</text>
<text x="10.3" y="131.6">9</text>
<text x="10.3" y="137.4">4</text>
<text x="10.3" y="143.1">33</text>
<text x="10.3" y="148.9">36</text>
<text x="10.3" y="154.7">35</text>
<text x="29.8" y="33.4">4</text>
<text x="29.8" y="39.2">25</text>
<text x="29.8" y="44.9">3</text>
<text x="29.8" y="50.7">69</text>
<text x="29.8" y="56.5">8</text>
<text x="29.8" y="62.3">82</text>
<text x="29.8" y="68.0">64</text>
<text x="29.8" y="73.8">2</text>
<text x="29.8" y="79.6">75</text>
<text x="29.8" y="85.4">37</text>
<text x="29.8" y="91.1">22</text>
<text x="29.8" y="96.9">80</text>
<text x="29.8" y="102.7">7</text>
<text x="29.8" y="108.5">73</text>
<text x="29.8" y="114.2">44</text>
<text x="29.8" y="120.0">73</text>
<text x="29.8" y="125.8">6</text>
<text x="29.8" y="131.6">1</text>
<text x="29.8" y="137.4">7</text>
<text x="29.8" y="143.1">17</text>
<text x="29.8" y="148.9">3</text>
<text x="29.8" y="154.7">8</text>
<text x="29.8" y="160.5">22</text>
<text x="29.8" y="166.2">81</text>
<text x="29.8" y="172.0">12</text>
<text x="29.8" y="177.8">1</text>
<text x="29.8" y="183.6">61</text>
<text x="49.4" y="21.8">11</text>
<text x="49.4" y="27.6">8</text>
<text x="49.4" y="33.4">11</text>
<text x="49.4" y="39.2">11</text>
<text x="49.4" y="44.9">70</text>
<text x="49.4" y="50.7">33</text>
<text x="49.4" y="56.5">81</text>
<text x="49.4" y="62.3">8</text>
<text x="49.4" y="68.0">20</text>
<text x="49.4" y="73.8">5</text>
<text x="49.4" y="79.6">66</text>
<text x="49.4" y="85.4">28</text>
<text x="49.4" y="91.1">59</text>
<text x="49.4" y="96.9">45</text>
<text x="49.4" y="102.7">49</text>
<text x="49.4" y="108.5">58</text>
<text x="49.4" y="114.2">10</text>
<text x="49.4" y="120.0">5</text>
<text x="49.4" y="125.8">83</text>
<text x="49.4" y="131.6">9</text>
<text x="49.4" y="137.4">80</text>
<text x="49.4" y="143.1">17</text>
<text x="49.4" y="148.9">8</text>
<text x="49.4" y="154.7">79</text>
<text x="49.4" y="160.5">60</text>
<text x="49.4" y="166.2">51</text>
<text x="49.4" y="172.0">37</text>
<text x="49.4" y="177.8">83</text>
<text x="49.4" y="183.6">7</text>
<text x="49.4" y="189.3">57</text>
<text x="49.4" y="195.1">2</text>
<text x="68.9" y="10.3">6</text>
<text x="68.9" y="16.1">82</text>
<text x="68.9" y="21.8">4</text>
<text x="68.9" y="27.6">87</text>
<text x="68.9" y="33.4">33</text>
<text x="68.9" y="39.2">16</text>
<text x="68.9" y="44.9">86</text>
<text x="68.9" y="50.7">21</text>
<text x="68.9" y="56.5">33</text>
<text x="68.9" y="62.3">57</text>
<text x="68.9" y="68.0">1</text>
<text x="68.9" y="73.8">1</text>
<text x="68.9" y="79.6">28</text>
<text x="68.9" y="85.4">5</text>
<text x="68.9" y="91.1">42</text>
<text x="68.9" y="96.9">57</text>
<text x="68.9" y="102.7">11</text>
<text x="68.9" y="108.5">4</text>
<text x="68.9" y="114.2">22</text>
<text x="68.9" y="120.0">67</text>
<text x="68.9" y="125.8">71</text>
<text x="68.9" y="131.6">33</text>
<text x="68.9" y="137.4">66</text>
<text x="68.9" y="143.1">7</text>
<text x="68.9" y="148.9">83</text>
<text x="68.9" y="154.7">50</text>
<text x="68.9" y="160.5">8</text>
<text x="68.9" y="166.2">4</text>
<text x="68.9" y="172.0">56</text>
<text x="68.9" y="177.8">22</text>
<text x="68.9" y="183.6">30</text>
<text x="68.9" y="189.3">66</text>
<text x="68.9" y="195.1">10</text>
<text x="68.9" y="200.9">65</text>
<text x="68.9" y="206.7">83</text>
<text x="88.5" y="4.5">9</text>
<text x="88.5" y="10.3">87</text>
<text x="88.5" y="16.1">34</text>
<text x="88.5" y="21.8">76</text>
<text x="88.5" y="27.6">54</text>
<text x="88.5" y="33.4">62</text>
<text x="88.5" y="39.2">41</text>
<text x="88.5" y="44.9">1</text>
<text x="88.5" y="50.7">6</text>
<text x="88.5" y="56.5">51</text>
<text x="88.5" y="62.3">73</text>
<text x="88.5" y="68.0">13</text>
<text x="88.5" y="73.8">41</text>
<text x="88.5" y="79.6">3</text>
<text x="88.5" y="85.4">1</text>
<text x="88.5" y="91.1">8</text>
<text x="88.5" y="96.9">32</text>
<text x="88.5" y="102.7">73</text>
<text x="88.5" y="108.5">25</text>
<text x="88.5" y="114.2">85</text>
<text x="88.5" y="120.0">12</text>
<text x="88.5" y="125.8">7</text>
<text x="88.5" y="131.6">53</text>
<text x="88.5" y="137.4">65</text>
<text x="88.5" y="143.1">81</text>
<text x="88.5" y="148.9">64</text>
<text x="88.5" y="154.7">33</text>
<text x="88.5" y="160.5">35</text>
<text x="88.5" y="166.2">3</text>
<text x="88.5" y="172.0">1</text>
<text x="88.5" y="177.8">2</text>
<text x="88.5" y="183.6">7</text>
<text x="88.5" y="189.3">5</text>
<text x="88.5" y="195.1">44</text>
<text x="88.5" y="200.9">75</text>
<text x="88.5" y="206.7">83</text>
<text x="88.5" y="212.4">79</text>
<text x="108.0" y="4.5">56</text>
<text x="108.0" y="10.3">71</text>
<text x="108.0" y="16.1">41</text>
<text x="108.0" y="21.8">84</text>
<text x="108.0" y="27.6">30</text>
<text x="108.0" y="33.4">72</text>
<text x="108.0" y="39.2">47</text>
<text x="108.0" y="44.9">54</text>
<text x="108.0" y="50.7">59</text>
<text x="108.0" y="56.5">29</text>
<text x="108.0" y="62.3">27</text>
<text x="108.0" y="68.0">22</text>
<text x="108.0" y="73.8">7</text>
<text x="108.0" y="79.6">29</text>
<text x="108.0" y="85.4">58</text>
<text x="108.0" y="91.1">55</text>
<text x="108.0" y="96.9">86</text>
<text x="108.0" y="102.7">58</text>
<text x="108.0" y="108.5">33</text>
<text x="108.0" y="114.2">83</text>
<text x="108.0" y="120.0">52</text>
<text x="108.0" y="125.8">6</text>
<text x="108.0" y="131.6">82</text>
<text x="108.0" y="137.4">65</text>
<text x="108.0" y="143.1">55</text>
<text x="108.0" y="148.9">11</text>
<text x="108.0" y="154.7">74</text>
<text x="108.0" y="160.5">34</text>
<text x="108.0" y="166.2">66</text>
<text x="108.0" y="172.0">31</text>
<text x="108.0" y="177.8">19</text>
<text x="108.0" y="183.6">75</text>
<text x="108.0" y="189.3">77</text>
<text x="108.0" y="195.1">9</text>
<text x="108.0" y="200.9">15</text>
<text x="108.0" y="206.7">1</text>
<text x="108.0" y="212.4">146</text>
<text x="127.5" y="4.5">5</text>
<text x="127.5" y="10.3">32</text>
<text x="127.5" y="16.1">75</text>
<text x="127.5" y="21.8">87</text>
<text x="127.5" y="27.6">9</text>
<text x="127.5" y="33.4">72</text>
<text x="127.5" y="39.2">11</text>
<text x="127.5" y="44.9">40</text>
<text x="127.5" y="50.7">1</text>
<text x="127.5" y="56.5">6</text>
<text x="127.5" y="62.3">1</text>
<text x="127.5" y="68.0">16</text>
<text x="127.5" y="73.8">85</text>
<text x="127.5" y="79.6">48</text>
<text x="127.5" y="85.4">18</text>
<text x="127.5" y="91.1">7</text>
<text x="127.5" y="96.9">32</text>
<text x="127.5" y="102.7">47</text>
<text x="127.5" y="108.5">52</text>
<text x="127.5" y="114.2">25</text>
<text x="127.5" y="120.0">80</text>
<text x="127.5" y="125.8">40</text>
<text x="127.5" y="131.6">45</text>
<text x="127.5" y="137.4">21</text>
<text x="127.5" y="143.1">66</text>
<text x="127.5" y="148.9">30</text>
<text x="127.5" y="154.7">84</text>
<text x="127.5" y="160.5">39</text>
<text x="127.5" y="166.2">86</text>
<text x="127.5" y="172.0">41</text>
<text x="127.5" y="177.8">75</text>
<text x="127.5" y="183.6">82</text>
<text x="127.5" y="189.3">59</text>
<text x="127.5" y="195.1">23</text>
<text x="127.5" y="200.9">34</text>
<text x="127.5" y="206.7">26</text>
<text x="127.5" y="212.4">55</text>
<text x="147.1" y="10.3">13</text>
<text x="147.1" y="16.1">41</text>
<text x="147.1" y="21.8">6</text>
<text x="147.1" y="27.6">15</text>
<text x="147.1" y="33.4">87</text>
<text x="147.1" y="39.2">58</text>
<text x="147.1" y="44.9">82</text>
<text x="147.1" y="50.7">65</text>
<text x="147.1" y="56.5">1</text>
<text x="147.1" y="62.3">24</text>
<text x="147.1" y="68.0">21</text>
<text x="147.1" y="73.8">54</text>
<text x="147.1" y="79.6">8</text>
<text x="147.1" y="85.4">26</text>
<text x="147.1" y="91.1">15</text>
<text x="147.1" y="96.9">40</text>
<text x="147.1" y="102.7">31</text>
<text x="147.1" y="108.5">21</text>
<text x="147.1" y="114.2">72</text>
<text x="147.1" y="120.0">66</text>
<text x="147.1" y="125.8">27</text>
<text x="147.1" y="131.6">25</text>
<text x="147.1" y="137.4">86</text>
<text x="147.1" y="143.1">56</text>
<text x="147.1" y="148.9">17</text>
<text x="147.1" y="154.7">4</text>
<text x="147.1" y="160.5">66</text>
<text x="147.1" y="166.2">5</text>
<text x="147.1" y="172.0">72</text>
<text x="147.1" y="177.8">65</text>
<text x="147.1" y="183.6">51</text>
<text x="147.1" y="189.3">2</text>
<text x="147.1" y="195.1">13</text>
<text x="147.1" y="200.9">57</text>
<text x="147.1" y="206.7">49</text>
<text x="166.6" y="21.8">50</text>
<text x="166.6" y="27.6">9</text>
<text x="166.6" y="33.4">1</text>
<text x="166.6" y="39.2">73</text>
<text x="166.6" y="44.9">87</text>
<text x="166.6" y="50.7">66</text>
<text x="166.6" y="56.5">15</text>
<text x="166.6" y="62.3">14</text>
<text x="166.6" y="68.0">17</text>
<text x="166.6" y="73.8">18</text>
<text x="166.6" y="79.6">10</text>
<text x="166.6" y="85.4">6</text>
<text x="166.6" y="91.1">68</text>
<text x="166.6" y="96.9">9</text>
<text x="166.6" y="102.7">48</text>
<text x="166.6" y="108.5">27</text>
<text x="166.6" y="114.2">38</text>
<text x="166.6" y="120.0">57</text>
<text x="166.6" y="125.8">82</text>
<text x="166.6" y="131.6">43</text>
<text x="166.6" y="137.4">24</text>
<text x="166.6" y="143.1">42</text>
<text x="166.6" y="148.9">4</text>
<text x="166.6" y="154.7">20</text>
<text x="166.6" y="160.5">2</text>
<text x="166.6" y="166.2">23</text>
<text x="166.6" y="172.0">82</text>
<text x="166.6" y="177.8">6</text>
<text x="166.6" y="183.6">15</text>
<text x="166.6" y="189.3">27</text>
<text x="166.6" y="195.1">82</text>
<text x="186.2" y="33.4">98</text>
<text x="186.2" y="39.2">243</text>
<text x="186.2" y="44.9">237</text>
<text x="186.2" y="50.7">152</text>
<text x="186.2" y="56.5">215</text>
<text x="186.2" y="62.3">181</text>
<text x="186.2" y="68.0">211</text>
<text x="186.2" y="73.8">245</text>
<text x="186.2" y="79.6">281</text>
<text x="186.2" y="85.4">284</text>
<text x="186.2" y="91.1">241</text>
<text x="186.2" y="96.9">275</text>
<text x="186.2" y="102.7">161</text>
<text x="186.2" y="108.5">240</text>
<text x="186.2" y="114.2">175</text>
<text x="186.2" y="120.0">241</text>
<text x="186.2" y="125.8">290</text>
<text x="186.2" y="131.6">233</text>
<text x="186.2" y="137.4">139</text>
<text x="186.2" y="143.1">126</text>
<text x="186.2" y="148.9">41</text>
<text x="186.2" y="154.7">84</text>
<text x="186.2" y="160.5">2</text>
<text x="186.2" y="166.2">29</text>
<text x="186.2" y="172.0">85</text>
<text x="186.2" y="177.8">11</text>
<text x="186.2" y="183.6">8</text>
<text x="205.7" y="62.3">92</text>
<text x="205.7" y="68.0">99</text>
<text x="205.7" y="73.8">250</text>
<text x="205.7" y="79.6">271</text>
<text x="205.7" y="85.4">190</text>
<text x="205.7" y="91.1">264</text>
<text x="205.7" y="96.9">250</text>
<text x="205.7" y="102.7">208</text>
<text x="205.7" y="108.5">282</text>
<text x="205.7" y="114.2">169</text>
<text x="205.7" y="120.0">242</text>
<text x="205.7" y="125.8">234</text>
<text x="205.7" y="131.6">285</text>
<text x="205.7" y="137.4">205</text>
<text x="205.7" y="143.1">229</text>
<text x="205.7" y="148.9">183</text>
<text x="205.7" y="154.7">125</text>
</g></svg>
<svg class="abs" style="left:410px;top:658.7px" width="215" height="213.71" viewBox="0 0 215 213.71">
<polygon fill="#08a84a" points="0.00,57.76 19.55,57.76 19.55,28.88 39.09,28.88 39.09,17.33 58.64,17.33 58.64,5.78 78.18,5.78 78.18,0.00 97.73,0.00 97.73,0.00 117.27,0.00 117.27,0.00 136.82,0.00 136.82,5.78 156.36,5.78 156.36,17.33 175.91,17.33 175.91,28.88 195.45,28.88 195.45,57.76 215.00,57.76 215.00,155.95 195.45,155.95 195.45,184.83 175.91,184.83 175.91,196.38 156.36,196.38 156.36,207.94 136.82,207.94 136.82,213.71 117.27,213.71 117.27,213.71 97.73,213.71 97.73,213.71 78.18,213.71 78.18,207.94 58.64,207.94 58.64,196.38 39.09,196.38 39.09,184.83 19.55,184.83 19.55,155.95 0.00,155.95"/>
<rect x="0.00" y="63.54" width="19.55" height="17.33" fill="#ffff00"/>
<rect x="0.00" y="80.86" width="19.55" height="69.31" fill="#ff0000"/>
<rect x="0.00" y="150.18" width="19.55" height="5.78" fill="#ffff00"/>
<rect x="19.55" y="34.66" width="19.55" height="11.55" fill="#ffff00"/>
<rect x="19.55" y="46.21" width="19.55" height="11.55" fill="#ff0000"/>
<rect x="19.55" y="57.76" width="19.55" height="23.10" fill="#ffff00"/>
<rect x="19.55" y="92.42" width="19.55" height="17.33" fill="#ffff00"/>
<rect x="19.55" y="109.74" width="19.55" height="63.54" fill="#ff0000"/>
<rect x="19.55" y="173.28" width="19.55" height="5.78" fill="#ffff00"/>
<rect x="39.09" y="23.10" width="19.55" height="23.10" fill="#ffff00"/>
<rect x="39.09" y="161.73" width="19.55" height="11.55" fill="#ffff00"/>
<rect x="39.09" y="173.28" width="19.55" height="11.55" fill="#ff0000"/>
<rect x="39.09" y="184.83" width="19.55" height="5.78" fill="#ffff00"/>
<rect x="58.64" y="17.33" width="19.55" height="5.78" fill="#ffff00"/>
<rect x="58.64" y="179.06" width="19.55" height="23.10" fill="#ffff00"/>
<rect x="78.18" y="207.94" width="19.55" height="5.78" fill="#ffff00"/>
<rect x="97.73" y="196.38" width="19.55" height="17.33" fill="#ffff00"/>
<rect x="117.27" y="202.16" width="19.55" height="5.78" fill="#ffff00"/>
<rect x="136.82" y="17.33" width="19.55" height="11.55" fill="#ffff00"/>
<rect x="136.82" y="184.83" width="19.55" height="17.33" fill="#ffff00"/>
<rect x="156.36" y="23.10" width="19.55" height="5.78" fill="#ffff00"/>
<rect x="156.36" y="28.88" width="19.55" height="11.55" fill="#ff0000"/>
<rect x="156.36" y="40.43" width="19.55" height="17.33" fill="#ffff00"/>
<rect x="156.36" y="167.50" width="19.55" height="23.10" fill="#ffff00"/>
<rect x="175.91" y="34.66" width="19.55" height="11.55" fill="#ffff00"/>
<rect x="175.91" y="46.21" width="19.55" height="28.88" fill="#ff0000"/>
<rect x="175.91" y="75.09" width="19.55" height="80.86" fill="#ffff00"/>
<rect x="175.91" y="155.95" width="19.55" height="11.55" fill="#ff0000"/>
<rect x="175.91" y="167.50" width="19.55" height="11.55" fill="#ffff00"/>
<rect x="195.45" y="63.54" width="19.55" height="17.33" fill="#ffff00"/>
<rect x="195.45" y="80.86" width="19.55" height="51.98" fill="#ff0000"/>
<rect x="195.45" y="132.85" width="19.55" height="17.33" fill="#ffff00"/>
<g font-family="Liberation Sans" font-size="4.2" font-weight="bold" text-anchor="middle" fill="#000" fill-opacity="0.72">
<text x="10.3" y="62.3">56</text>
<text x="10.3" y="68.0">109</text>
<text x="10.3" y="73.8">124</text>
<text x="10.3" y="79.6">117</text>
<text x="10.3" y="85.4">249</text>
<text x="10.3" y="91.1">240</text>
<text x="10.3" y="96.9">230</text>
<text x="10.3" y="102.7">151</text>
<text x="10.3" y="108.5">235</text>
<text x="10.3" y="114.2">298</text>
<text x="10.3" y="120.0">273</text>
<text x="10.3" y="125.8">235</text>
<text x="10.3" y="131.6">208</text>
<text x="10.3" y="137.4">155</text>
<text x="10.3" y="143.1">213</text>
<text x="10.3" y="148.9">267</text>
<text x="10.3" y="154.7">144</text>
<text x="29.8" y="33.4">44</text>
<text x="29.8" y="39.2">105</text>
<text x="29.8" y="44.9">92</text>
<text x="29.8" y="50.7">278</text>
<text x="29.8" y="56.5">217</text>
<text x="29.8" y="62.3">110</text>
<text x="29.8" y="68.0">124</text>
<text x="29.8" y="73.8">124</text>
<text x="29.8" y="79.6">121</text>
<text x="29.8" y="85.4">14</text>
<text x="29.8" y="91.1">22</text>
<text x="29.8" y="96.9">138</text>
<text x="29.8" y="102.7">138</text>
<text x="29.8" y="108.5">103</text>
<text x="29.8" y="114.2">186</text>
<text x="29.8" y="120.0">168</text>
<text x="29.8" y="125.8">227</text>
<text x="29.8" y="131.6">237</text>
<text x="29.8" y="137.4">242</text>
<text x="29.8" y="143.1">280</text>
<text x="29.8" y="148.9">212</text>
<text x="29.8" y="154.7">239</text>
<text x="29.8" y="160.5">290</text>
<text x="29.8" y="166.2">253</text>
<text x="29.8" y="172.0">235</text>
<text x="29.8" y="177.8">91</text>
<text x="29.8" y="183.6">71</text>
<text x="49.4" y="21.8">40</text>
<text x="49.4" y="27.6">101</text>
<text x="49.4" y="33.4">88</text>
<text x="49.4" y="39.2">144</text>
<text x="49.4" y="44.9">143</text>
<text x="49.4" y="50.7">67</text>
<text x="49.4" y="56.5">18</text>
<text x="49.4" y="62.3">83</text>
<text x="49.4" y="68.0">34</text>
<text x="49.4" y="73.8">55</text>
<text x="49.4" y="79.6">18</text>
<text x="49.4" y="85.4">42</text>
<text x="49.4" y="91.1">5</text>
<text x="49.4" y="96.9">35</text>
<text x="49.4" y="102.7">9</text>
<text x="49.4" y="108.5">3</text>
<text x="49.4" y="114.2">10</text>
<text x="49.4" y="120.0">11</text>
<text x="49.4" y="125.8">72</text>
<text x="49.4" y="131.6">6</text>
<text x="49.4" y="137.4">86</text>
<text x="49.4" y="143.1">11</text>
<text x="49.4" y="148.9">17</text>
<text x="49.4" y="154.7">12</text>
<text x="49.4" y="160.5">56</text>
<text x="49.4" y="166.2">110</text>
<text x="49.4" y="172.0">122</text>
<text x="49.4" y="177.8">292</text>
<text x="49.4" y="183.6">189</text>
<text x="49.4" y="189.3">130</text>
<text x="49.4" y="195.1">6</text>
<text x="68.9" y="10.3">68</text>
<text x="68.9" y="16.1">76</text>
<text x="68.9" y="21.8">104</text>
<text x="68.9" y="27.6">70</text>
<text x="68.9" y="33.4">3</text>
<text x="68.9" y="39.2">25</text>
<text x="68.9" y="44.9">43</text>
<text x="68.9" y="50.7">3</text>
<text x="68.9" y="56.5">41</text>
<text x="68.9" y="62.3">68</text>
<text x="68.9" y="68.0">18</text>
<text x="68.9" y="73.8">82</text>
<text x="68.9" y="79.6">38</text>
<text x="68.9" y="85.4">43</text>
<text x="68.9" y="91.1">51</text>
<text x="68.9" y="96.9">73</text>
<text x="68.9" y="102.7">27</text>
<text x="68.9" y="108.5">52</text>
<text x="68.9" y="114.2">50</text>
<text x="68.9" y="120.0">15</text>
<text x="68.9" y="125.8">3</text>
<text x="68.9" y="131.6">11</text>
<text x="68.9" y="137.4">74</text>
<text x="68.9" y="143.1">21</text>
<text x="68.9" y="148.9">52</text>
<text x="68.9" y="154.7">11</text>
<text x="68.9" y="160.5">12</text>
<text x="68.9" y="166.2">24</text>
<text x="68.9" y="172.0">64</text>
<text x="68.9" y="177.8">9</text>
<text x="68.9" y="183.6">121</text>
<text x="68.9" y="189.3">110</text>
<text x="68.9" y="195.1">141</text>
<text x="68.9" y="200.9">119</text>
<text x="68.9" y="206.7">2</text>
<text x="88.5" y="4.5">11</text>
<text x="88.5" y="10.3">2</text>
<text x="88.5" y="16.1">7</text>
<text x="88.5" y="21.8">68</text>
<text x="88.5" y="27.6">44</text>
<text x="88.5" y="33.4">63</text>
<text x="88.5" y="39.2">59</text>
<text x="88.5" y="44.9">87</text>
<text x="88.5" y="50.7">7</text>
<text x="88.5" y="56.5">61</text>
<text x="88.5" y="62.3">8</text>
<text x="88.5" y="68.0">53</text>
<text x="88.5" y="73.8">18</text>
<text x="88.5" y="79.6">44</text>
<text x="88.5" y="85.4">54</text>
<text x="88.5" y="91.1">18</text>
<text x="88.5" y="96.9">77</text>
<text x="88.5" y="102.7">32</text>
<text x="88.5" y="108.5">56</text>
<text x="88.5" y="114.2">42</text>
<text x="88.5" y="120.0">55</text>
<text x="88.5" y="125.8">45</text>
<text x="88.5" y="131.6">24</text>
<text x="88.5" y="137.4">10</text>
<text x="88.5" y="143.1">40</text>
<text x="88.5" y="148.9">42</text>
<text x="88.5" y="154.7">83</text>
<text x="88.5" y="160.5">45</text>
<text x="88.5" y="166.2">21</text>
<text x="88.5" y="172.0">26</text>
<text x="88.5" y="177.8">66</text>
<text x="88.5" y="183.6">62</text>
<text x="88.5" y="189.3">40</text>
<text x="88.5" y="195.1">84</text>
<text x="88.5" y="200.9">67</text>
<text x="88.5" y="206.7">7</text>
<text x="88.5" y="212.4">94</text>
<text x="108.0" y="4.5">63</text>
<text x="108.0" y="10.3">60</text>
<text x="108.0" y="16.1">75</text>
<text x="108.0" y="21.8">15</text>
<text x="108.0" y="27.6">68</text>
<text x="108.0" y="33.4">23</text>
<text x="108.0" y="39.2">2</text>
<text x="108.0" y="44.9">17</text>
<text x="108.0" y="50.7">16</text>
<text x="108.0" y="56.5">34</text>
<text x="108.0" y="62.3">9</text>
<text x="108.0" y="68.0">48</text>
<text x="108.0" y="73.8">16</text>
<text x="108.0" y="79.6">65</text>
<text x="108.0" y="85.4">35</text>
<text x="108.0" y="91.1">57</text>
<text x="108.0" y="96.9">6</text>
<text x="108.0" y="102.7">18</text>
<text x="108.0" y="108.5">38</text>
<text x="108.0" y="114.2">85</text>
<text x="108.0" y="120.0">7</text>
<text x="108.0" y="125.8">65</text>
<text x="108.0" y="131.6">2</text>
<text x="108.0" y="137.4">73</text>
<text x="108.0" y="143.1">78</text>
<text x="108.0" y="148.9">22</text>
<text x="108.0" y="154.7">63</text>
<text x="108.0" y="160.5">64</text>
<text x="108.0" y="166.2">30</text>
<text x="108.0" y="172.0">29</text>
<text x="108.0" y="177.8">80</text>
<text x="108.0" y="183.6">14</text>
<text x="108.0" y="189.3">38</text>
<text x="108.0" y="195.1">33</text>
<text x="108.0" y="200.9">131</text>
<text x="108.0" y="206.7">113</text>
<text x="108.0" y="212.4">95</text>
<text x="127.5" y="4.5">1</text>
<text x="127.5" y="10.3">12</text>
<text x="127.5" y="16.1">72</text>
<text x="127.5" y="21.8">27</text>
<text x="127.5" y="27.6">5</text>
<text x="127.5" y="33.4">10</text>
<text x="127.5" y="39.2">32</text>
<text x="127.5" y="44.9">41</text>
<text x="127.5" y="50.7">18</text>
<text x="127.5" y="56.5">30</text>
<text x="127.5" y="62.3">8</text>
<text x="127.5" y="68.0">63</text>
<text x="127.5" y="73.8">57</text>
<text x="127.5" y="79.6">10</text>
<text x="127.5" y="85.4">43</text>
<text x="127.5" y="91.1">2</text>
<text x="127.5" y="96.9">6</text>
<text x="127.5" y="102.7">56</text>
<text x="127.5" y="108.5">81</text>
<text x="127.5" y="114.2">9</text>
<text x="127.5" y="120.0">16</text>
<text x="127.5" y="125.8">31</text>
<text x="127.5" y="131.6">1</text>
<text x="127.5" y="137.4">82</text>
<text x="127.5" y="143.1">4</text>
<text x="127.5" y="148.9">4</text>
<text x="127.5" y="154.7">32</text>
<text x="127.5" y="160.5">2</text>
<text x="127.5" y="166.2">6</text>
<text x="127.5" y="172.0">28</text>
<text x="127.5" y="177.8">27</text>
<text x="127.5" y="183.6">6</text>
<text x="127.5" y="189.3">8</text>
<text x="127.5" y="195.1">4</text>
<text x="127.5" y="200.9">73</text>
<text x="127.5" y="206.7">96</text>
<text x="127.5" y="212.4">48</text>
<text x="147.1" y="10.3">7</text>
<text x="147.1" y="16.1">42</text>
<text x="147.1" y="21.8">125</text>
<text x="147.1" y="27.6">117</text>
<text x="147.1" y="33.4">9</text>
<text x="147.1" y="39.2">58</text>
<text x="147.1" y="44.9">86</text>
<text x="147.1" y="50.7">5</text>
<text x="147.1" y="56.5">63</text>
<text x="147.1" y="62.3">28</text>
<text x="147.1" y="68.0">2</text>
<text x="147.1" y="73.8">52</text>
<text x="147.1" y="79.6">8</text>
<text x="147.1" y="85.4">33</text>
<text x="147.1" y="91.1">52</text>
<text x="147.1" y="96.9">49</text>
<text x="147.1" y="102.7">74</text>
<text x="147.1" y="108.5">77</text>
<text x="147.1" y="114.2">68</text>
<text x="147.1" y="120.0">75</text>
<text x="147.1" y="125.8">63</text>
<text x="147.1" y="131.6">47</text>
<text x="147.1" y="137.4">73</text>
<text x="147.1" y="143.1">25</text>
<text x="147.1" y="148.9">29</text>
<text x="147.1" y="154.7">1</text>
<text x="147.1" y="160.5">5</text>
<text x="147.1" y="166.2">32</text>
<text x="147.1" y="172.0">63</text>
<text x="147.1" y="177.8">73</text>
<text x="147.1" y="183.6">6</text>
<text x="147.1" y="189.3">138</text>
<text x="147.1" y="195.1">122</text>
<text x="147.1" y="200.9">110</text>
<text x="147.1" y="206.7">35</text>
<text x="166.6" y="21.8">5</text>
<text x="166.6" y="27.6">125</text>
<text x="166.6" y="33.4">226</text>
<text x="166.6" y="39.2">248</text>
<text x="166.6" y="44.9">137</text>
<text x="166.6" y="50.7">149</text>
<text x="166.6" y="56.5">111</text>
<text x="166.6" y="62.3">44</text>
<text x="166.6" y="68.0">61</text>
<text x="166.6" y="73.8">59</text>
<text x="166.6" y="79.6">67</text>
<text x="166.6" y="85.4">15</text>
<text x="166.6" y="91.1">9</text>
<text x="166.6" y="96.9">56</text>
<text x="166.6" y="102.7">2</text>
<text x="166.6" y="108.5">49</text>
<text x="166.6" y="114.2">5</text>
<text x="166.6" y="120.0">24</text>
<text x="166.6" y="125.8">53</text>
<text x="166.6" y="131.6">73</text>
<text x="166.6" y="137.4">76</text>
<text x="166.6" y="143.1">18</text>
<text x="166.6" y="148.9">74</text>
<text x="166.6" y="154.7">37</text>
<text x="166.6" y="160.5">3</text>
<text x="166.6" y="166.2">14</text>
<text x="166.6" y="172.0">129</text>
<text x="166.6" y="177.8">133</text>
<text x="166.6" y="183.6">144</text>
<text x="166.6" y="189.3">133</text>
<text x="166.6" y="195.1">18</text>
<text x="186.2" y="33.4">49</text>
<text x="186.2" y="39.2">131</text>
<text x="186.2" y="44.9">124</text>
<text x="186.2" y="50.7">170</text>
<text x="186.2" y="56.5">242</text>
<text x="186.2" y="62.3">155</text>
<text x="186.2" y="68.0">282</text>
<text x="186.2" y="73.8">168</text>
<text x="186.2" y="79.6">95</text>
<text x="186.2" y="85.4">141</text>
<text x="186.2" y="91.1">149</text>
<text x="186.2" y="96.9">108</text>
<text x="186.2" y="102.7">101</text>
<text x="186.2" y="108.5">88</text>
<text x="186.2" y="114.2">117</text>
<text x="186.2" y="120.0">128</text>
<text x="186.2" y="125.8">136</text>
<text x="186.2" y="131.6">96</text>
<text x="186.2" y="137.4">116</text>
<text x="186.2" y="143.1">105</text>
<text x="186.2" y="148.9">120</text>
<text x="186.2" y="154.7">91</text>
<text x="186.2" y="160.5">264</text>
<text x="186.2" y="166.2">292</text>
<text x="186.2" y="172.0">126</text>
<text x="186.2" y="177.8">139</text>
<text x="186.2" y="183.6">1</text>
<text x="205.7" y="62.3">47</text>
<text x="205.7" y="68.0">121</text>
<text x="205.7" y="73.8">124</text>
<text x="205.7" y="79.6">102</text>
<text x="205.7" y="85.4">205</text>
<text x="205.7" y="91.1">292</text>
<text x="205.7" y="96.9">203</text>
<text x="205.7" y="102.7">222</text>
<text x="205.7" y="108.5">297</text>
<text x="205.7" y="114.2">287</text>
<text x="205.7" y="120.0">157</text>
<text x="205.7" y="125.8">207</text>
<text x="205.7" y="131.6">194</text>
<text x="205.7" y="137.4">89</text>
<text x="205.7" y="143.1">139</text>
<text x="205.7" y="148.9">120</text>
<text x="205.7" y="154.7">57</text>
</g></svg>
<svg class="abs" style="left:410px;top:969.9px" width="215" height="213.71" viewBox="0 0 215 213.71">
<polygon fill="#08a84a" points="0.00,57.76 19.55,57.76 19.55,34.66 39.09,34.66 39.09,17.33 58.64,17.33 58.64,5.78 78.18,5.78 78.18,0.00 97.73,0.00 97.73,0.00 117.27,0.00 117.27,0.00 136.82,0.00 136.82,5.78 156.36,5.78 156.36,17.33 175.91,17.33 175.91,34.66 195.45,34.66 195.45,57.76 215.00,57.76 215.00,155.95 195.45,155.95 195.45,179.06 175.91,179.06 175.91,196.38 156.36,196.38 156.36,207.94 136.82,207.94 136.82,213.71 117.27,213.71 117.27,213.71 97.73,213.71 97.73,213.71 78.18,213.71 78.18,207.94 58.64,207.94 58.64,196.38 39.09,196.38 39.09,179.06 19.55,179.06 19.55,155.95 0.00,155.95"/>
<rect x="0.00" y="132.85" width="19.55" height="17.33" fill="#ffff00"/>
<rect x="39.09" y="150.18" width="19.55" height="23.10" fill="#ffff00"/>
<rect x="58.64" y="161.73" width="19.55" height="28.88" fill="#ffff00"/>
<rect x="78.18" y="173.28" width="19.55" height="23.10" fill="#ffff00"/>
<rect x="97.73" y="207.94" width="19.55" height="5.78" fill="#ffff00"/>
<g font-family="Liberation Sans" font-size="4.2" font-weight="bold" text-anchor="middle" fill="#000" fill-opacity="0.72">
<text x="10.3" y="62.3">35</text>
<text x="10.3" y="68.0">9</text>
<text x="10.3" y="73.8">31</text>
<text x="10.3" y="79.6">51</text>
<text x="10.3" y="85.4">55</text>
<text x="10.3" y="91.1">4</text>
<text x="10.3" y="96.9">20</text>
<text x="10.3" y="102.7">11</text>
<text x="10.3" y="108.5">60</text>
<text x="10.3" y="114.2">45</text>
<text x="10.3" y="120.0">1</text>
<text x="10.3" y="125.8">2</text>
<text x="10.3" y="131.6">26</text>
<text x="10.3" y="137.4">85</text>
<text x="10.3" y="143.1">87</text>
<text x="10.3" y="148.9">84</text>
<text x="10.3" y="154.7">57</text>
<text x="29.8" y="39.2">55</text>
<text x="29.8" y="44.9">31</text>
<text x="29.8" y="50.7">6</text>
<text x="29.8" y="56.5">60</text>
<text x="29.8" y="62.3">26</text>
<text x="29.8" y="68.0">4</text>
<text x="29.8" y="73.8">62</text>
<text x="29.8" y="79.6">63</text>
<text x="29.8" y="85.4">18</text>
<text x="29.8" y="91.1">9</text>
<text x="29.8" y="96.9">8</text>
<text x="29.8" y="102.7">45</text>
<text x="29.8" y="108.5">8</text>
<text x="29.8" y="114.2">4</text>
<text x="29.8" y="120.0">22</text>
<text x="29.8" y="125.8">50</text>
<text x="29.8" y="131.6">2</text>
<text x="29.8" y="137.4">20</text>
<text x="29.8" y="143.1">54</text>
<text x="29.8" y="148.9">2</text>
<text x="29.8" y="154.7">10</text>
<text x="29.8" y="160.5">4</text>
<text x="29.8" y="166.2">4</text>
<text x="29.8" y="172.0">39</text>
<text x="29.8" y="177.8">12</text>
<text x="49.4" y="21.8">5</text>
<text x="49.4" y="27.6">8</text>
<text x="49.4" y="33.4">19</text>
<text x="49.4" y="39.2">42</text>
<text x="49.4" y="44.9">1</text>
<text x="49.4" y="50.7">9</text>
<text x="49.4" y="56.5">44</text>
<text x="49.4" y="62.3">35</text>
<text x="49.4" y="68.0">42</text>
<text x="49.4" y="73.8">17</text>
<text x="49.4" y="79.6">49</text>
<text x="49.4" y="85.4">2</text>
<text x="49.4" y="91.1">27</text>
<text x="49.4" y="96.9">41</text>
<text x="49.4" y="102.7">4</text>
<text x="49.4" y="108.5">53</text>
<text x="49.4" y="114.2">34</text>
<text x="49.4" y="120.0">2</text>
<text x="49.4" y="125.8">3</text>
<text x="49.4" y="131.6">28</text>
<text x="49.4" y="137.4">60</text>
<text x="49.4" y="143.1">30</text>
<text x="49.4" y="148.9">51</text>
<text x="49.4" y="154.7">85</text>
<text x="49.4" y="160.5">82</text>
<text x="49.4" y="166.2">80</text>
<text x="49.4" y="172.0">65</text>
<text x="49.4" y="177.8">44</text>
<text x="49.4" y="183.6">9</text>
<text x="49.4" y="189.3">31</text>
<text x="49.4" y="195.1">62</text>
<text x="68.9" y="10.3">7</text>
<text x="68.9" y="16.1">17</text>
<text x="68.9" y="21.8">13</text>
<text x="68.9" y="27.6">7</text>
<text x="68.9" y="33.4">4</text>
<text x="68.9" y="39.2">37</text>
<text x="68.9" y="44.9">53</text>
<text x="68.9" y="50.7">7</text>
<text x="68.9" y="56.5">23</text>
<text x="68.9" y="62.3">3</text>
<text x="68.9" y="68.0">7</text>
<text x="68.9" y="73.8">9</text>
<text x="68.9" y="79.6">56</text>
<text x="68.9" y="85.4">59</text>
<text x="68.9" y="91.1">29</text>
<text x="68.9" y="96.9">21</text>
<text x="68.9" y="102.7">39</text>
<text x="68.9" y="108.5">34</text>
<text x="68.9" y="114.2">23</text>
<text x="68.9" y="120.0">27</text>
<text x="68.9" y="125.8">20</text>
<text x="68.9" y="131.6">19</text>
<text x="68.9" y="137.4">13</text>
<text x="68.9" y="143.1">2</text>
<text x="68.9" y="148.9">28</text>
<text x="68.9" y="154.7">33</text>
<text x="68.9" y="160.5">60</text>
<text x="68.9" y="166.2">88</text>
<text x="68.9" y="172.0">88</text>
<text x="68.9" y="177.8">75</text>
<text x="68.9" y="183.6">98</text>
<text x="68.9" y="189.3">72</text>
<text x="68.9" y="195.1">28</text>
<text x="68.9" y="200.9">24</text>
<text x="68.9" y="206.7">25</text>
<text x="88.5" y="4.5">16</text>
<text x="88.5" y="10.3">11</text>
<text x="88.5" y="16.1">17</text>
<text x="88.5" y="21.8">15</text>
<text x="88.5" y="27.6">41</text>
<text x="88.5" y="33.4">38</text>
<text x="88.5" y="39.2">38</text>
<text x="88.5" y="44.9">4</text>
<text x="88.5" y="50.7">24</text>
<text x="88.5" y="56.5">7</text>
<text x="88.5" y="62.3">20</text>
<text x="88.5" y="68.0">15</text>
<text x="88.5" y="73.8">39</text>
<text x="88.5" y="79.6">38</text>
<text x="88.5" y="85.4">27</text>
<text x="88.5" y="91.1">40</text>
<text x="88.5" y="96.9">5</text>
<text x="88.5" y="102.7">53</text>
<text x="88.5" y="108.5">48</text>
<text x="88.5" y="114.2">3</text>
<text x="88.5" y="120.0">52</text>
<text x="88.5" y="125.8">1</text>
<text x="88.5" y="131.6">64</text>
<text x="88.5" y="137.4">63</text>
<text x="88.5" y="143.1">14</text>
<text x="88.5" y="148.9">20</text>
<text x="88.5" y="154.7">14</text>
<text x="88.5" y="160.5">64</text>
<text x="88.5" y="166.2">22</text>
<text x="88.5" y="172.0">60</text>
<text x="88.5" y="177.8">85</text>
<text x="88.5" y="183.6">67</text>
<text x="88.5" y="189.3">91</text>
<text x="88.5" y="195.1">76</text>
<text x="88.5" y="200.9">6</text>
<text x="88.5" y="206.7">6</text>
<text x="88.5" y="212.4">26</text>
<text x="108.0" y="4.5">55</text>
<text x="108.0" y="10.3">3</text>
<text x="108.0" y="16.1">36</text>
<text x="108.0" y="21.8">58</text>
<text x="108.0" y="27.6">47</text>
<text x="108.0" y="33.4">26</text>
<text x="108.0" y="39.2">55</text>
<text x="108.0" y="44.9">2</text>
<text x="108.0" y="50.7">28</text>
<text x="108.0" y="56.5">43</text>
<text x="108.0" y="62.3">5</text>
<text x="108.0" y="68.0">41</text>
<text x="108.0" y="73.8">9</text>
<text x="108.0" y="79.6">34</text>
<text x="108.0" y="85.4">33</text>
<text x="108.0" y="91.1">13</text>
<text x="108.0" y="96.9">4</text>
<text x="108.0" y="102.7">40</text>
<text x="108.0" y="108.5">24</text>
<text x="108.0" y="114.2">36</text>
<text x="108.0" y="120.0">24</text>
<text x="108.0" y="125.8">41</text>
<text x="108.0" y="131.6">50</text>
<text x="108.0" y="137.4">18</text>
<text x="108.0" y="143.1">40</text>
<text x="108.0" y="148.9">44</text>
<text x="108.0" y="154.7">61</text>
<text x="108.0" y="160.5">53</text>
<text x="108.0" y="166.2">17</text>
<text x="108.0" y="172.0">51</text>
<text x="108.0" y="177.8">59</text>
<text x="108.0" y="183.6">14</text>
<text x="108.0" y="189.3">48</text>
<text x="108.0" y="195.1">9</text>
<text x="108.0" y="200.9">3</text>
<text x="108.0" y="206.7">24</text>
<text x="108.0" y="212.4">66</text>
<text x="127.5" y="4.5">17</text>
<text x="127.5" y="10.3">31</text>
<text x="127.5" y="16.1">57</text>
<text x="127.5" y="21.8">13</text>
<text x="127.5" y="27.6">3</text>
<text x="127.5" y="33.4">60</text>
<text x="127.5" y="39.2">42</text>
<text x="127.5" y="44.9">61</text>
<text x="127.5" y="50.7">7</text>
<text x="127.5" y="56.5">14</text>
<text x="127.5" y="62.3">14</text>
<text x="127.5" y="68.0">61</text>
<text x="127.5" y="73.8">40</text>
<text x="127.5" y="79.6">10</text>
<text x="127.5" y="85.4">63</text>
<text x="127.5" y="91.1">37</text>
<text x="127.5" y="96.9">1</text>
<text x="127.5" y="102.7">23</text>
<text x="127.5" y="108.5">23</text>
<text x="127.5" y="114.2">24</text>
<text x="127.5" y="120.0">55</text>
<text x="127.5" y="125.8">43</text>
<text x="127.5" y="131.6">1</text>
<text x="127.5" y="137.4">13</text>
<text x="127.5" y="143.1">25</text>
<text x="127.5" y="148.9">30</text>
<text x="127.5" y="154.7">8</text>
<text x="127.5" y="160.5">49</text>
<text x="127.5" y="166.2">40</text>
<text x="127.5" y="172.0">40</text>
<text x="127.5" y="177.8">38</text>
<text x="127.5" y="183.6">1</text>
<text x="127.5" y="189.3">18</text>
<text x="127.5" y="195.1">2</text>
<text x="127.5" y="200.9">14</text>
<text x="127.5" y="206.7">19</text>
<text x="127.5" y="212.4">2</text>
<text x="147.1" y="10.3">5</text>
<text x="147.1" y="16.1">62</text>
<text x="147.1" y="21.8">34</text>
<text x="147.1" y="27.6">25</text>
<text x="147.1" y="33.4">26</text>
<text x="147.1" y="39.2">21</text>
<text x="147.1" y="44.9">35</text>
<text x="147.1" y="50.7">16</text>
<text x="147.1" y="56.5">42</text>
<text x="147.1" y="62.3">49</text>
<text x="147.1" y="68.0">57</text>
<text x="147.1" y="73.8">4</text>
<text x="147.1" y="79.6">32</text>
<text x="147.1" y="85.4">30</text>
<text x="147.1" y="91.1">29</text>
<text x="147.1" y="96.9">34</text>
<text x="147.1" y="102.7">53</text>
<text x="147.1" y="108.5">56</text>
<text x="147.1" y="114.2">42</text>
<text x="147.1" y="120.0">37</text>
<text x="147.1" y="125.8">4</text>
<text x="147.1" y="131.6">21</text>
<text x="147.1" y="137.4">3</text>
<text x="147.1" y="143.1">40</text>
<text x="147.1" y="148.9">56</text>
<text x="147.1" y="154.7">2</text>
<text x="147.1" y="160.5">1</text>
<text x="147.1" y="166.2">22</text>
<text x="147.1" y="172.0">40</text>
<text x="147.1" y="177.8">46</text>
<text x="147.1" y="183.6">56</text>
<text x="147.1" y="189.3">6</text>
<text x="147.1" y="195.1">38</text>
<text x="147.1" y="200.9">33</text>
<text x="147.1" y="206.7">12</text>
<text x="166.6" y="21.8">18</text>
<text x="166.6" y="27.6">43</text>
<text x="166.6" y="33.4">2</text>
<text x="166.6" y="39.2">33</text>
<text x="166.6" y="44.9">14</text>
<text x="166.6" y="50.7">30</text>
<text x="166.6" y="56.5">8</text>
<text x="166.6" y="62.3">48</text>
<text x="166.6" y="68.0">3</text>
<text x="166.6" y="73.8">6</text>
<text x="166.6" y="79.6">64</text>
<text x="166.6" y="85.4">39</text>
<text x="166.6" y="91.1">3</text>
<text x="166.6" y="96.9">48</text>
<text x="166.6" y="102.7">23</text>
<text x="166.6" y="108.5">59</text>
<text x="166.6" y="114.2">60</text>
<text x="166.6" y="120.0">43</text>
<text x="166.6" y="125.8">3</text>
<text x="166.6" y="131.6">55</text>
<text x="166.6" y="137.4">5</text>
<text x="166.6" y="143.1">8</text>
<text x="166.6" y="148.9">36</text>
<text x="166.6" y="154.7">50</text>
<text x="166.6" y="160.5">59</text>
<text x="166.6" y="166.2">32</text>
<text x="166.6" y="172.0">29</text>
<text x="166.6" y="177.8">19</text>
<text x="166.6" y="183.6">21</text>
<text x="166.6" y="189.3">59</text>
<text x="166.6" y="195.1">27</text>
<text x="186.2" y="39.2">47</text>
<text x="186.2" y="44.9">54</text>
<text x="186.2" y="50.7">32</text>
<text x="186.2" y="56.5">54</text>
<text x="186.2" y="62.3">3</text>
<text x="186.2" y="68.0">56</text>
<text x="186.2" y="73.8">55</text>
<text x="186.2" y="79.6">7</text>
<text x="186.2" y="85.4">53</text>
<text x="186.2" y="91.1">47</text>
<text x="186.2" y="96.9">45</text>
<text x="186.2" y="102.7">3</text>
<text x="186.2" y="108.5">38</text>
<text x="186.2" y="114.2">43</text>
<text x="186.2" y="120.0">30</text>
<text x="186.2" y="125.8">26</text>
<text x="186.2" y="131.6">1</text>
<text x="186.2" y="137.4">6</text>
<text x="186.2" y="143.1">62</text>
<text x="186.2" y="148.9">3</text>
<text x="186.2" y="154.7">23</text>
<text x="186.2" y="160.5">3</text>
<text x="186.2" y="166.2">7</text>
<text x="186.2" y="172.0">45</text>
<text x="186.2" y="177.8">12</text>
<text x="205.7" y="62.3">37</text>
<text x="205.7" y="68.0">3</text>
<text x="205.7" y="73.8">12</text>
<text x="205.7" y="79.6">3</text>
<text x="205.7" y="85.4">22</text>
<text x="205.7" y="91.1">64</text>
<text x="205.7" y="96.9">36</text>
<text x="205.7" y="102.7">11</text>
<text x="205.7" y="108.5">19</text>
<text x="205.7" y="114.2">1</text>
<text x="205.7" y="120.0">8</text>
<text x="205.7" y="125.8">11</text>
<text x="205.7" y="131.6">42</text>
<text x="205.7" y="137.4">21</text>
<text x="205.7" y="143.1">1</text>
<text x="205.7" y="148.9">36</text>
<text x="205.7" y="154.7">52</text>
</g></svg>
<div class="abs sw" style="left:420px;top:267.3px;background:#08a84a"></div>
<div class="abs lg" style="left:444.5px;top:264.7px">SSRR &lt; 88 nm/mm</div>
<div class="abs sw" style="left:417.3px;top:289.9px;background:#ffff00"></div>
<div class="abs lg" style="left:446.5px;top:287.3px">88 &lt; SSRR &lt; 150 nm/mm</div>
<div class="abs sw" style="left:418.8px;top:317.0px;background:#ff0000"></div>
<div class="abs lg" style="left:444.5px;top:314.4px">SSRR &gt; 150 nm/mm</div>
<div class="abs sw" style="left:420px;top:578.3px;background:#08a84a"></div>
<div class="abs lg" style="left:444.5px;top:575.7px">SSRR &lt; 88 nm/mm</div>
<div class="abs sw" style="left:417.3px;top:600.9px;background:#ffff00"></div>
<div class="abs lg" style="left:446.5px;top:598.3px">88 &lt; SSRR &lt; 150 nm/mm</div>
<div class="abs sw" style="left:418.8px;top:628.0px;background:#ff0000"></div>
<div class="abs lg" style="left:444.5px;top:625.4px">SSRR &gt; 150 nm/mm</div>
<div class="abs sw" style="left:420px;top:890.3px;background:#08a84a"></div>
<div class="abs lg" style="left:444.5px;top:887.7px">SSRR &lt; 88 nm/mm</div>
<div class="abs sw" style="left:417.3px;top:912.9px;background:#ffff00"></div>
<div class="abs lg" style="left:446.5px;top:910.3px">88 &lt; SSRR &lt; 150 nm/mm</div>
<div class="abs sw" style="left:418.8px;top:940.0px;background:#ff0000"></div>
<div class="abs lg" style="left:444.5px;top:937.4px">SSRR &gt; 150 nm/mm</div>
<div class="abs sw" style="left:420px;top:1200.9px;background:#08a84a"></div>
<div class="abs lg" style="left:444.5px;top:1198.3px">SSRR &lt; 65 nm/mm</div>
<div class="abs sw" style="left:417.3px;top:1223.5px;background:#ffff00"></div>
<div class="abs lg" style="left:446.5px;top:1220.9px">65 &lt; SSRR &lt; 100 nm/mm</div>
<div class="abs sw" style="left:418.8px;top:1250.6px;background:#ff0000"></div>
<div class="abs lg" style="left:444.5px;top:1248.0px">SSRR &gt; 100 nm/mm</div>
<div class="hd" style="left:137.5px">Wafer Shape</div>
<div class="hd" style="left:453.5px">SSRR Metric</div>
<div class="rl" id="rl0" style="left:15.5px;top:228.7px">Wafer 1</div>
<div class="rl" id="rl1" style="left:15.5px;top:538.5px">Wafer 2</div>
<div class="rl" id="rl2" style="left:15.5px;top:849.7px">Wafer 3</div>
<div class="rl" id="rl3" style="left:15.5px;top:1161.2px">Wafer 4</div>
<div class="abs" style="left:0px;top:1px;width:684px;height:2px;background:#333"></div>
<div class="abs" style="left:0px;top:33px;width:684px;height:1px;background:#444"></div>
<div class="abs" style="left:0px;top:34px;width:684px;height:1px;background:#ddd"></div>
<div class="abs" style="left:0px;top:345px;width:684px;height:1px;background:#000"></div>
<div class="abs" style="left:0px;top:346px;width:93px;height:1px;background:#aaa"></div>
<div class="abs" style="left:308px;top:346px;width:376px;height:1px;background:#aaa"></div>
<div class="abs" style="left:0px;top:656px;width:684px;height:1px;background:#111"></div>
<div class="abs" style="left:0px;top:657px;width:93px;height:1px;background:#888"></div>
<div class="abs" style="left:308px;top:657px;width:376px;height:1px;background:#888"></div>
<div class="abs" style="left:0px;top:967px;width:40px;height:1px;background:#222"></div>
<div class="abs" style="left:40px;top:967px;width:644px;height:1px;background:#888"></div>
<div class="abs" style="left:0px;top:968px;width:93px;height:1px;background:#ccc"></div>
<div class="abs" style="left:308px;top:968px;width:376px;height:1px;background:#ccc"></div>
<div class="abs" style="left:0px;top:1278px;width:684px;height:1px;background:#888"></div>
<div class="abs" style="left:0px;top:1279px;width:684px;height:1px;background:#000"></div>
<div class="abs" style="left:0px;top:1px;width:1px;height:1279px;background:#000"></div>
<div class="abs" style="left:49px;top:1px;width:2px;height:33px;background:#555"></div>
<div class="abs" style="left:49px;top:34px;width:2px;height:1246px;background:#1a1a1a"></div>
<div class="abs" style="left:351px;top:1px;width:2px;height:33px;background:#444"></div>
<div class="abs" style="left:351px;top:34px;width:2px;height:1246px;background:#000"></div>
<div class="abs" style="left:683px;top:1px;width:1px;height:1279px;background:#282828"></div>
</body></html>
